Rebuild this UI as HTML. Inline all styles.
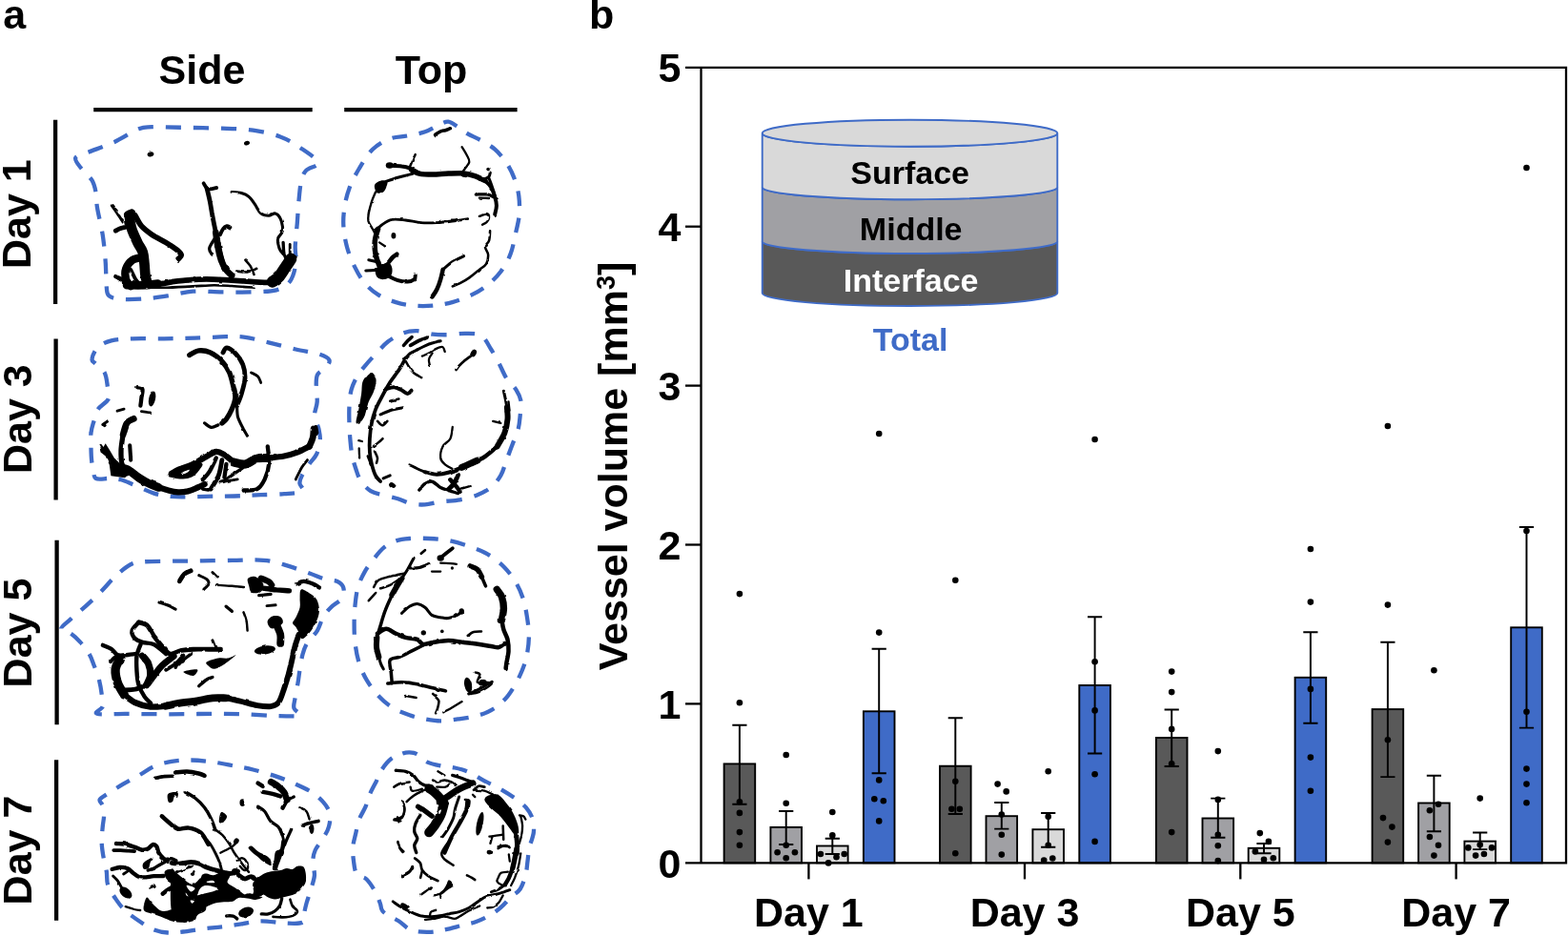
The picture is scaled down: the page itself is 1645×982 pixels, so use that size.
<!DOCTYPE html>
<html lang="en">
<head>
<meta charset="utf-8">
<title>Vessel volume figure</title>
<style>
html,body{margin:0;padding:0;background:#fff;}
body{width:1645px;height:982px;overflow:hidden;}
svg{display:block;}
text{font-family:"Liberation Sans",Arial,Helvetica,sans-serif;font-weight:700;}
.t43{font-size:43px;}
.t34{font-size:34px;}
</style>
</head>
<body>
<svg width="1645" height="982" viewBox="0 0 1645 982">
<defs>
<filter id="rough" x="-10%" y="-10%" width="120%" height="120%">
<feTurbulence type="fractalNoise" baseFrequency="0.11" numOctaves="2" seed="7" result="n"/>
<feDisplacementMap in="SourceGraphic" in2="n" scale="2.2" xChannelSelector="R" yChannelSelector="G"/>
</filter>
</defs>
<rect width="1645" height="982" fill="#fff"/>
<g id="labels">
<text x="3.3" y="30.3" class="t43">a</text>
<text x="618" y="30.3" class="t43">b</text>
<text x="212" y="88" text-anchor="middle" class="t43">Side</text>
<text x="452.6" y="88" text-anchor="middle" class="t43">Top</text>
<path d="M98.2 115.1H327.7M361.2 115.1H542.6" stroke="#000" stroke-width="4.3"/>
<text transform="translate(32.3 224.7) rotate(-90)" text-anchor="middle" class="t43">Day 1</text>
<path d="M58.1 125.7V318.9" stroke="#000" stroke-width="4.3"/>
<text transform="translate(32.5 439.7) rotate(-90)" text-anchor="middle" class="t43">Day 3</text>
<path d="M58.6 355.5V524.4" stroke="#000" stroke-width="4.3"/>
<text transform="translate(33.0 664) rotate(-90)" text-anchor="middle" class="t43">Day 5</text>
<path d="M59.6 566.7V760.3" stroke="#000" stroke-width="4.3"/>
<text transform="translate(32.8 892) rotate(-90)" text-anchor="middle" class="t43">Day 7</text>
<path d="M59.1 797.3V965.8" stroke="#000" stroke-width="4.3"/>
</g>
<g id="d1side">
<path d="M79.2 165.8C80.2 162.8 85.8 162.4 92.4 159.7C99.0 157.0 110.1 153.6 118.9 149.5C127.7 145.5 138.6 138.0 145.4 135.3C152.1 132.6 151.8 133.5 159.6 133.2C167.4 133.0 180.0 133.6 192.2 133.8C204.4 134.1 220.7 134.2 232.9 134.7C245.2 135.1 255.3 135.2 265.5 136.7C275.7 138.2 285.9 140.4 294.0 143.4C302.2 146.4 307.8 150.1 314.4 154.6C321.0 159.1 332.7 166.4 333.7 170.5C334.8 174.6 323.9 175.6 320.9 179.1C317.9 182.5 317.1 185.9 315.8 191.3C314.6 196.7 314.1 204.5 313.4 211.6C312.7 218.8 312.4 226.2 311.8 234.1C311.1 241.9 310.0 251.4 309.7 258.5C309.5 265.6 311.2 270.7 310.3 276.8C309.4 282.9 307.6 290.6 304.2 295.2C300.8 299.7 296.7 302.5 290.0 304.3C283.2 306.2 273.0 306.0 263.5 306.4C254.0 306.7 243.1 306.5 232.9 306.4C222.7 306.3 211.9 305.1 202.4 305.7C192.9 306.4 184.4 309.1 175.9 310.4C167.4 311.7 159.6 312.9 151.5 313.5C143.3 314.1 133.2 314.4 127.0 313.9C120.8 313.4 116.9 312.5 114.4 310.4C111.9 308.3 112.4 307.2 111.8 301.3C111.1 295.3 111.4 284.0 110.7 274.8C110.1 265.6 109.1 255.8 107.7 246.3C106.2 236.8 103.2 225.2 102.0 217.8C100.8 210.3 101.5 206.2 100.5 201.5C99.6 196.7 98.9 193.2 96.5 189.2C94.1 185.3 89.2 181.9 86.3 178.0C83.4 174.1 78.1 168.9 79.2 165.8Z" fill="none" stroke="#3f6bc7" stroke-width="4.3" stroke-dasharray="16.12 12.90" stroke-dashoffset="14.02"/>
<g filter="url(#rough)">
<ellipse cx="158.0" cy="161.8" rx="3.46" ry="2.44" fill="#000" transform="rotate(-15 158.0 161.8)"/>
<ellipse cx="259.0" cy="150.1" rx="3.05" ry="2.24" fill="#000" transform="rotate(-15 259.0 150.1)"/>
<path d="M117.3 215.7C118.3 217.1 121.4 221.4 123.4 224.3C125.3 227.2 128.1 231.6 129.1 233.0" fill="none" stroke="#000" stroke-width="3.09" stroke-linecap="round" stroke-linejoin="round"/>
<path d="M121.3 242.2C122.1 241.8 124.4 240.4 126.0 239.8C127.6 239.1 130.3 238.7 131.1 238.5" fill="none" stroke="#000" stroke-width="4.80" stroke-linecap="round" stroke-linejoin="round"/>
<path d="M130.1 223.9C131.1 221.8 137.0 219.0 139.2 219.4C141.5 219.7 143.9 224.0 143.7 225.9C143.6 227.8 140.0 230.0 138.2 231.0C136.5 231.9 134.5 232.8 133.1 231.6C131.8 230.4 129.1 225.9 130.1 223.9Z" fill="#000"/>
<path d="M135.6 226.9C136.0 229.1 136.8 235.6 138.2 240.2C139.7 244.7 142.4 250.3 144.3 254.4C146.3 258.5 148.6 260.9 149.8 264.6C151.0 268.3 151.0 272.7 151.5 276.8C151.9 280.9 152.0 285.6 152.5 289.0C153.0 292.4 154.2 295.8 154.5 297.2" fill="none" stroke="#000" stroke-width="10.66" stroke-linecap="round" stroke-linejoin="round"/>
<path d="M141.7 225.9C142.8 227.8 145.4 233.7 148.4 237.1C151.4 240.5 155.4 243.4 159.6 246.3C163.9 249.2 169.5 251.7 173.9 254.4C178.3 257.1 183.4 260.4 186.1 262.6C188.8 264.8 190.0 266.1 190.2 267.7C190.3 269.2 187.6 271.1 187.1 271.7" fill="none" stroke="#000" stroke-width="5.78" stroke-linecap="round" stroke-linejoin="round"/>
<path d="M150.4 269.7C148.6 270.2 142.3 270.7 139.2 272.7C136.2 274.8 133.3 278.5 132.1 281.9C130.9 285.3 131.3 290.1 132.1 293.1C133.0 296.2 136.4 299.1 137.2 300.2" fill="none" stroke="#000" stroke-width="8.22" stroke-linecap="round" stroke-linejoin="round"/>
<path d="M121.3 290.1C122.4 290.6 126.1 291.9 128.0 293.1C130.0 294.3 132.3 296.5 133.1 297.2" fill="none" stroke="#000" stroke-width="4.31" stroke-linecap="round" stroke-linejoin="round"/>
<path d="M137.2 282.9C138.1 284.6 140.6 290.4 142.3 293.1C144.0 295.8 146.5 298.2 147.4 299.2" fill="none" stroke="#000" stroke-width="3.82" stroke-linecap="round" stroke-linejoin="round"/>
<path d="M133.1 299.2C136.2 299.2 146.0 299.5 151.5 299.2C156.9 299.0 163.3 297.9 165.7 297.6" fill="none" stroke="#000" stroke-width="8.71" stroke-linecap="round" stroke-linejoin="round"/>
<path d="M165.7 298.4C168.1 298.0 175.6 296.4 180.0 295.8C184.4 295.1 186.1 294.8 192.2 294.3C198.3 293.9 208.2 292.9 216.6 292.9C225.1 292.9 235.0 293.7 243.1 294.1C251.3 294.6 259.1 295.2 265.5 295.6C272.0 295.9 277.9 296.6 281.8 296.4C285.7 296.1 287.8 294.5 288.9 294.1" fill="none" stroke="#000" stroke-width="5.78" stroke-linecap="round" stroke-linejoin="round"/>
<path d="M157.6 301.7C160.6 301.7 168.4 301.9 175.9 301.7C183.4 301.5 194.2 300.9 202.4 300.4C210.5 300.0 218.0 299.3 224.8 299.2C231.6 299.2 236.2 299.6 243.1 300.0C250.1 300.4 262.6 301.4 266.5 301.7" fill="none" stroke="#000" stroke-width="2.60" stroke-linecap="round" stroke-linejoin="round"/>
<path d="M213.6 192.3C214.2 193.2 215.9 196.4 217.0 197.4C218.2 198.4 219.0 198.5 220.7 198.4C222.4 198.3 226.1 197.2 227.2 197.0" fill="none" stroke="#000" stroke-width="3.82" stroke-linecap="round" stroke-linejoin="round"/>
<path d="M217.0 197.4C217.6 199.8 219.3 206.6 220.3 211.6C221.3 216.7 222.1 222.5 223.2 227.9C224.2 233.4 225.9 241.5 226.4 244.2" fill="none" stroke="#000" stroke-width="4.80" stroke-linecap="round" stroke-linejoin="round"/>
<path d="M226.4 244.2C226.8 247.0 227.9 255.8 228.9 260.5C229.8 265.3 230.6 269.0 231.9 272.7C233.3 276.5 235.1 280.2 237.0 282.9C238.9 285.6 242.1 288.0 243.1 289.0" fill="none" stroke="#000" stroke-width="6.75" stroke-linecap="round" stroke-linejoin="round"/>
<path d="M227.8 250.3C228.2 252.4 229.0 258.5 229.9 262.6C230.7 266.6 232.4 272.7 232.9 274.8" fill="none" stroke="#000" stroke-width="6.27" stroke-linecap="round" stroke-linejoin="round"/>
<path d="M230.9 246.3C231.4 245.3 232.8 241.7 234.0 240.2C235.1 238.6 236.8 237.4 238.0 237.1C239.3 236.8 240.9 238.3 241.5 238.5" fill="none" stroke="#000" stroke-width="3.82" stroke-linecap="round" stroke-linejoin="round"/>
<path d="M225.2 250.3C224.3 252.0 220.2 257.7 219.7 260.5C219.2 263.3 221.9 266.0 222.3 267.0" fill="none" stroke="#000" stroke-width="3.33" stroke-linecap="round" stroke-linejoin="round"/>
<path d="M243.1 201.5C244.8 201.6 250.2 201.6 253.3 202.5C256.4 203.3 259.1 204.5 261.4 206.6C263.8 208.6 265.5 211.8 267.6 214.7C269.6 217.6 271.3 221.9 273.7 223.9C276.0 225.8 279.3 226.3 281.8 226.3C284.4 226.3 286.9 223.4 288.9 223.9C291.0 224.3 292.8 226.6 294.0 229.0C295.3 231.3 296.2 235.6 296.5 238.1C296.7 240.7 296.5 242.2 295.7 244.2C294.8 246.3 292.0 247.6 291.6 250.3C291.1 253.1 292.1 257.8 293.0 260.5C293.9 263.2 296.4 265.6 297.1 266.6" fill="none" stroke="#000" stroke-width="3.09" stroke-linecap="round" stroke-linejoin="round"/>
<path d="M257.4 272.7C258.2 273.8 260.9 276.3 262.5 278.9C264.0 281.4 265.9 286.5 266.5 288.0" fill="none" stroke="#000" stroke-width="2.60" stroke-linecap="round" stroke-linejoin="round"/>
<path d="M248.2 284.6C250.1 284.7 255.9 285.8 259.4 285.4C262.9 284.9 267.6 282.5 269.2 281.9" fill="none" stroke="#000" stroke-width="2.60" stroke-linecap="round" stroke-linejoin="round"/>
<path d="M305.2 271.7C304.2 273.3 301.3 277.7 299.1 280.9C296.9 284.1 294.2 288.6 292.0 291.1C289.8 293.5 286.9 294.8 285.9 295.6" fill="none" stroke="#000" stroke-width="12.13" stroke-linecap="round" stroke-linejoin="round"/>
<path d="M297.1 254.4C297.3 256.5 297.3 263.2 298.1 266.6C299.0 270.0 301.5 273.4 302.2 274.8" fill="none" stroke="#000" stroke-width="3.33" stroke-linecap="round" stroke-linejoin="round"/>
<path d="M304.2 256.5L304.2 266.6" fill="none" stroke="#000" stroke-width="2.84" stroke-linecap="round" stroke-linejoin="round"/>
<path d="M310.3 269.7L304.2 278.9" fill="none" stroke="#000" stroke-width="2.84" stroke-linecap="round" stroke-linejoin="round"/>
</g>
</g>
<g id="d1top">
<path d="M470.3 127.7C473.7 128.1 477.1 131.1 480.5 133.2C483.9 135.3 486.6 138.0 490.7 140.4C494.8 142.7 500.2 144.8 505.0 147.5C509.7 150.2 514.8 152.8 519.2 156.7C523.6 160.6 528.1 165.8 531.4 170.9C534.8 176.0 537.5 181.4 539.6 187.2C541.7 193.0 543.4 199.1 544.3 205.5C545.1 212.0 545.3 219.1 544.7 225.9C544.1 232.7 542.1 239.5 540.6 246.3C539.1 253.1 538.1 260.2 535.5 266.6C533.0 273.1 529.4 279.5 525.3 285.0C521.3 290.4 516.2 295.2 511.1 299.2C506.0 303.3 500.9 306.4 494.8 309.4C488.7 312.4 481.2 315.3 474.4 317.1C467.6 319.0 460.8 320.0 454.1 320.6C447.3 321.2 440.1 321.2 433.7 320.6C427.2 320.0 421.5 319.0 415.4 317.1C409.2 315.3 402.5 312.7 397.0 309.4C391.6 306.1 386.8 301.9 382.8 297.2C378.7 292.4 375.6 287.0 372.6 280.9C369.5 274.8 366.5 267.7 364.4 260.5C362.4 253.4 360.9 245.3 360.4 238.1C359.9 231.0 360.4 224.5 361.4 217.8C362.4 211.0 363.9 204.2 366.5 197.4C369.0 190.6 372.6 183.8 376.7 177.0C380.7 170.2 385.5 161.9 390.9 156.7C396.3 151.4 403.1 147.8 409.2 145.5C415.4 143.1 421.5 143.6 427.6 142.4C433.7 141.2 440.5 140.2 445.9 138.3C451.3 136.5 456.1 133.0 460.2 131.2C464.2 129.4 467.0 127.4 470.3 127.7Z" fill="none" stroke="#3f6bc7" stroke-width="4.3" stroke-dasharray="15.75 12.60" stroke-dashoffset="5.50"/>
<g filter="url(#rough)">
<path d="M456.5 141.4C457.4 140.8 460.4 138.7 462.2 137.9C464.0 137.1 465.6 137.2 467.3 136.7C469.0 136.2 471.5 135.0 472.4 134.7" fill="none" stroke="#000" stroke-width="3.52" stroke-linecap="round" stroke-linejoin="round"/>
<ellipse cx="408.8" cy="173.4" rx="4.07" ry="3.26" fill="#000"/>
<path d="M408.8 173.8C410.9 173.9 418.0 174.1 421.5 174.6C424.9 175.0 426.6 175.2 429.6 176.4C432.7 177.6 438.1 180.8 439.8 181.7" fill="none" stroke="#000" stroke-width="4.01" stroke-linecap="round" stroke-linejoin="round"/>
<path d="M431.6 178.0C433.0 178.7 436.1 181.3 439.8 182.1C443.5 183.0 449.0 183.1 454.1 183.1C459.1 183.1 464.9 182.3 470.3 182.1C475.8 181.9 481.9 181.5 486.6 181.9C491.4 182.4 495.1 183.5 498.9 184.8C502.6 186.1 507.3 188.8 509.0 189.7" fill="none" stroke="#000" stroke-width="5.48" stroke-linecap="round" stroke-linejoin="round"/>
<path d="M509.0 189.7C510.1 190.8 513.5 193.6 515.2 196.4C516.8 199.2 518.3 203.3 519.2 206.6C520.2 209.8 520.9 212.7 520.9 215.7C520.9 218.8 519.5 223.4 519.2 224.9" fill="none" stroke="#000" stroke-width="4.01" stroke-linecap="round" stroke-linejoin="round"/>
<path d="M429.6 176.0C430.1 174.8 431.6 170.8 432.7 168.5C433.7 166.2 435.2 163.2 435.7 162.2" fill="none" stroke="#000" stroke-width="2.54" stroke-linecap="round" stroke-linejoin="round"/>
<path d="M484.6 154.2C485.5 155.6 488.4 160.2 489.7 162.8C491.0 165.4 492.7 167.5 492.3 169.9C492.0 172.3 488.9 175.2 487.7 177.0C486.4 178.8 485.5 180.1 485.0 180.7" fill="none" stroke="#000" stroke-width="2.30" stroke-linecap="round" stroke-linejoin="round"/>
<ellipse cx="512.1" cy="177.6" rx="1.83" ry="1.83" fill="#000"/>
<path d="M507.4 188.2C508.3 187.8 511.6 186.8 512.7 185.6C513.9 184.4 514.1 181.8 514.3 181.1" fill="none" stroke="#000" stroke-width="3.03" stroke-linecap="round" stroke-linejoin="round"/>
<path d="M513.1 187.2C513.7 188.9 515.8 194.3 516.8 197.4C517.8 200.4 518.8 204.2 519.2 205.5" fill="none" stroke="#000" stroke-width="3.03" stroke-linecap="round" stroke-linejoin="round"/>
<path d="M499.3 204.1C501.2 204.1 508.0 203.5 511.1 203.9C514.1 204.3 516.5 206.1 517.6 206.6" fill="none" stroke="#000" stroke-width="3.28" stroke-linecap="round" stroke-linejoin="round"/>
<path d="M502.9 207.6L513.1 208.0" fill="none" stroke="#000" stroke-width="2.30" stroke-linecap="round" stroke-linejoin="round"/>
<path d="M435.7 181.1C434.7 181.4 432.7 182.3 429.6 183.1C426.6 184.0 421.5 185.0 417.4 186.2C413.3 187.4 407.2 189.6 405.2 190.3" fill="none" stroke="#000" stroke-width="3.03" stroke-linecap="round" stroke-linejoin="round"/>
<path d="M393.4 193.3C394.3 191.9 396.9 190.2 399.1 189.7C401.2 189.1 405.2 189.1 406.2 190.3C407.2 191.4 405.9 194.5 405.2 196.4C404.5 198.2 403.6 200.4 402.1 201.5C400.6 202.5 397.5 203.0 396.0 202.5C394.5 202.0 393.8 199.9 393.4 198.4C392.9 196.9 392.4 194.8 393.4 193.3Z" fill="#000"/>
<path d="M394.0 201.5C393.3 203.2 391.1 207.9 389.9 211.6C388.7 215.4 387.4 220.5 386.8 223.9C386.3 227.3 385.8 229.3 386.4 232.0C387.1 234.7 389.7 237.8 390.9 240.2C392.2 242.5 393.5 245.3 394.0 246.3" fill="none" stroke="#000" stroke-width="2.30" stroke-linecap="round" stroke-linejoin="round"/>
<path d="M394.0 242.2C395.2 241.1 398.2 237.4 401.1 235.5C404.0 233.5 407.2 231.1 411.3 230.4C415.4 229.6 420.4 230.5 425.5 231.0C430.6 231.5 436.4 233.2 441.8 233.6C447.3 234.1 452.7 233.9 458.1 233.6C463.6 233.4 469.0 232.7 474.4 232.0C479.9 231.3 488.0 230.0 490.7 229.6" fill="none" stroke="#000" stroke-width="2.79" stroke-linecap="round" stroke-linejoin="round"/>
<path d="M396.6 240.2C396.1 242.2 393.8 248.0 393.4 252.4C392.9 256.8 393.2 262.2 394.0 266.6C394.8 271.1 396.5 275.5 398.0 278.9C399.6 282.3 402.3 285.6 403.1 287.0" fill="none" stroke="#000" stroke-width="5.48" stroke-linecap="round" stroke-linejoin="round"/>
<ellipse cx="412.9" cy="247.3" rx="2.44" ry="3.26" fill="#000"/>
<path d="M398.0 254.4L404.2 258.5" fill="none" stroke="#000" stroke-width="2.30" stroke-linecap="round" stroke-linejoin="round"/>
<path d="M386.8 272.7L398.0 275.2" fill="none" stroke="#000" stroke-width="3.03" stroke-linecap="round" stroke-linejoin="round"/>
<path d="M383.8 284.0L397.0 283.3" fill="none" stroke="#000" stroke-width="3.03" stroke-linecap="round" stroke-linejoin="round"/>
<path d="M394.0 282.9C394.8 280.6 398.9 278.2 401.1 276.8C403.3 275.5 405.5 274.1 407.2 274.8C408.9 275.5 410.8 278.5 411.3 280.9C411.8 283.3 411.6 287.0 410.3 289.0C408.9 291.1 405.5 292.8 403.1 293.1C400.8 293.5 397.5 292.8 396.0 291.1C394.5 289.4 393.1 285.3 394.0 282.9Z" fill="#000"/>
<path d="M407.2 275.8C408.1 274.8 410.8 271.2 412.3 269.7C413.8 268.2 415.7 267.1 416.4 266.6" fill="none" stroke="#000" stroke-width="4.50" stroke-linecap="round" stroke-linejoin="round"/>
<path d="M407.2 289.5C408.9 290.2 414.0 293.1 417.4 294.1C420.8 295.2 424.7 295.7 427.6 295.6C430.5 295.4 433.3 294.3 434.7 293.1C436.1 292.0 435.6 289.4 435.7 288.6" fill="none" stroke="#000" stroke-width="4.01" stroke-linecap="round" stroke-linejoin="round"/>
<path d="M514.1 242.2C514.0 243.9 514.0 249.6 513.1 252.4C512.3 255.2 509.2 256.5 509.0 258.9C508.9 261.3 511.9 264.1 512.1 267.0C512.3 270.0 511.6 274.2 510.1 276.8C508.5 279.5 505.8 280.6 502.9 282.9C500.0 285.3 496.1 288.7 492.7 291.1C489.4 293.5 485.6 295.6 482.6 297.2C479.6 298.8 476.1 299.9 474.8 300.4" fill="none" stroke="#000" stroke-width="2.54" stroke-linecap="round" stroke-linejoin="round"/>
<path d="M502.9 226.9C504.1 226.6 508.4 224.7 510.1 224.9C511.8 225.1 513.0 226.6 513.1 227.9C513.2 229.3 511.9 231.7 510.7 233.0C509.5 234.3 506.8 235.2 506.0 235.7" fill="none" stroke="#000" stroke-width="2.30" stroke-linecap="round" stroke-linejoin="round"/>
<path d="M486.6 268.7C484.6 269.7 478.1 272.4 474.4 274.8C470.8 277.2 466.3 281.6 464.6 282.9" fill="none" stroke="#000" stroke-width="3.03" stroke-linecap="round" stroke-linejoin="round"/>
<path d="M464.6 282.9C464.2 284.6 463.2 289.7 462.2 293.1C461.2 296.5 460.0 300.2 458.5 303.3C457.1 306.4 454.3 310.1 453.4 311.4" fill="none" stroke="#000" stroke-width="4.50" stroke-linecap="round" stroke-linejoin="round"/>
</g>
</g>
<g id="d3side">
<path d="M96.5 376.7C96.8 373.8 99.2 367.7 102.6 364.4C106.0 361.2 110.7 358.8 116.8 357.3C123.0 355.8 130.1 355.6 139.2 355.3C148.4 354.9 161.0 355.4 171.8 355.3C182.7 355.2 193.6 355.0 204.4 354.7C215.3 354.3 228.2 353.4 237.0 353.2C245.8 353.1 249.9 352.8 257.4 353.8C264.8 354.9 273.0 357.2 281.8 359.3C290.6 361.5 301.5 364.4 310.3 366.5C319.2 368.5 328.9 369.7 334.8 371.6C340.6 373.4 344.2 375.3 345.4 377.7C346.5 380.1 343.9 383.3 341.9 385.8C339.9 388.4 334.8 389.7 333.1 393.0C331.4 396.2 331.8 400.4 331.7 405.2C331.6 409.9 333.0 416.4 332.7 421.5C332.5 426.6 329.8 431.0 330.1 435.7C330.4 440.5 333.4 445.6 334.4 450.0C335.3 454.4 336.2 457.8 335.8 462.2C335.4 466.6 334.0 472.4 332.1 476.5C330.3 480.5 327.1 482.9 324.6 486.6C322.0 490.4 318.5 495.5 316.8 498.9C315.1 502.3 314.3 504.2 314.4 507.0C314.5 509.8 320.2 513.7 317.5 515.6C314.7 517.4 305.4 517.6 298.1 518.2C290.8 518.8 281.1 518.9 273.7 519.2C266.2 519.6 261.4 520.0 253.3 520.2C245.2 520.5 234.3 520.5 224.8 520.7C215.3 520.8 203.7 521.2 196.3 521.3C188.8 521.3 185.8 521.5 180.0 520.9C174.2 520.2 168.1 519.6 161.6 517.6C155.2 515.6 147.1 511.4 141.3 509.0C135.5 506.7 131.4 504.5 127.0 503.3C122.6 502.2 119.2 502.2 114.8 501.9C110.4 501.7 103.4 503.8 100.5 501.9C97.7 500.0 98.2 493.9 97.5 490.7C96.7 487.5 96.4 486.0 96.1 482.6C95.7 479.2 95.6 475.1 95.5 470.3C95.4 465.6 94.9 458.8 95.5 454.1C96.0 449.3 97.3 445.9 98.5 441.8C99.7 437.8 100.0 433.5 102.6 429.6C105.1 425.7 112.1 422.5 113.8 418.4C115.5 414.3 113.4 409.8 112.8 405.2C112.1 400.6 111.8 394.8 109.7 390.9C107.7 387.0 102.8 384.1 100.5 381.8C98.3 379.4 96.1 379.5 96.5 376.7Z" fill="none" stroke="#3f6bc7" stroke-width="4.3" stroke-dasharray="15.91 12.73" stroke-dashoffset="7.00"/>
<g filter="url(#rough)">
<path d="M198.7 372.6C200.3 371.8 204.8 368.3 208.5 367.9C212.2 367.5 216.6 368.1 220.7 369.9C224.8 371.8 229.6 375.6 232.9 379.1C236.3 382.6 238.7 386.6 240.7 390.9C242.6 395.3 243.7 400.8 244.7 405.2C245.8 409.6 247.1 413.3 246.8 417.4C246.5 421.5 244.7 425.9 243.1 429.6C241.6 433.3 239.1 437.4 237.4 439.8C235.7 442.2 233.7 443.2 232.9 443.9" fill="none" stroke="#000" stroke-width="5.29" stroke-linecap="round" stroke-linejoin="round"/>
<path d="M234.0 369.9C234.6 369.1 235.8 364.7 238.0 364.8C240.2 365.0 244.4 368.0 247.2 371.0C250.0 373.9 253.3 378.4 254.9 382.8C256.6 387.1 257.2 391.9 257.0 397.0C256.7 402.1 254.7 408.6 253.3 413.3C251.9 418.1 249.4 423.5 248.6 425.5" fill="none" stroke="#000" stroke-width="4.80" stroke-linecap="round" stroke-linejoin="round"/>
<path d="M248.6 425.5C248.8 427.6 248.5 433.7 249.6 437.8C250.8 441.8 253.7 446.8 255.3 450.0C257.0 453.2 258.7 455.9 259.4 457.1" fill="none" stroke="#000" stroke-width="3.09" stroke-linecap="round" stroke-linejoin="round"/>
<path d="M263.5 390.9C264.7 391.6 268.9 393.2 270.6 395.0C272.3 396.8 273.2 400.4 273.7 401.5" fill="none" stroke="#000" stroke-width="2.84" stroke-linecap="round" stroke-linejoin="round"/>
<path d="M214.6 443.9C215.8 444.6 219.4 448.0 221.7 448.4C224.1 448.7 227.7 446.3 228.9 445.9" fill="none" stroke="#000" stroke-width="3.33" stroke-linecap="round" stroke-linejoin="round"/>
<path d="M144.3 406.2C145.2 406.5 148.8 406.4 149.4 408.2C150.1 410.1 148.8 414.5 148.4 417.4C148.1 420.3 147.6 424.2 147.4 425.5" fill="none" stroke="#000" stroke-width="4.31" stroke-linecap="round" stroke-linejoin="round"/>
<ellipse cx="159.6" cy="418.4" rx="3.46" ry="8.15" fill="#000" transform="rotate(12 159.6 418.4)"/>
<path d="M148.4 431.6L157.6 432.9" fill="none" stroke="#000" stroke-width="2.84" stroke-linecap="round" stroke-linejoin="round"/>
<path d="M123.0 431.2L130.1 429.2" fill="none" stroke="#000" stroke-width="2.84" stroke-linecap="round" stroke-linejoin="round"/>
<path d="M107.7 445.5L113.2 441.8" fill="none" stroke="#000" stroke-width="2.84" stroke-linecap="round" stroke-linejoin="round"/>
<ellipse cx="109.7" cy="446.3" rx="1.83" ry="1.83" fill="#000"/>
<path d="M140.3 439.4C139.1 440.1 135.0 441.1 133.1 443.9C131.3 446.7 129.7 454.1 129.1 456.1" fill="none" stroke="#000" stroke-width="6.75" stroke-linecap="round" stroke-linejoin="round"/>
<path d="M129.1 456.1C128.7 458.8 127.2 467.3 127.0 472.4C126.9 477.5 127.0 482.6 128.0 486.6C129.1 490.7 132.3 495.1 133.1 496.8" fill="none" stroke="#000" stroke-width="5.29" stroke-linecap="round" stroke-linejoin="round"/>
<path d="M136.2 467.3L137.2 482.6" fill="none" stroke="#000" stroke-width="4.07" stroke-linecap="round" stroke-linejoin="round"/>
<path d="M104.2 468.7L107.7 470.3L110.7 465.3L115.2 472.4L119.9 480.5L126.0 486.6L136.2 495.8L131.1 501.3L116.4 499.3L114.8 487.7L110.7 478.5L105.6 474.4Z" fill="#000"/>
<path d="M105.6 467.3L110.7 474.4" fill="none" stroke="#000" stroke-width="2.84" stroke-linecap="round" stroke-linejoin="round"/>
<path d="M131.1 491.7C131.9 492.1 133.3 492.1 135.8 493.8C138.3 495.4 142.5 499.2 146.0 501.5C149.4 503.8 152.9 505.8 156.4 507.4C159.8 509.1 164.8 510.8 166.5 511.5" fill="none" stroke="#000" stroke-width="8.71" stroke-linecap="round" stroke-linejoin="round"/>
<path d="M166.5 511.5C168.2 512.0 173.3 513.7 176.7 514.5C180.1 515.4 183.5 516.2 186.9 516.4C190.3 516.5 193.7 516.2 197.1 515.4C200.5 514.5 204.4 512.7 207.3 511.5C210.2 510.3 213.4 508.6 214.6 508.0" fill="none" stroke="#000" stroke-width="6.27" stroke-linecap="round" stroke-linejoin="round"/>
<path d="M180.0 496.8C181.3 496.1 184.4 494.0 188.1 492.3C191.9 490.7 197.6 489.3 202.4 487.0C207.1 484.8 212.6 481.1 216.6 478.9C220.7 476.7 223.8 474.1 226.8 473.8C229.9 473.5 231.9 475.0 235.0 476.9C238.0 478.7 243.5 483.7 245.2 485.0" fill="none" stroke="#000" stroke-width="6.27" stroke-linecap="round" stroke-linejoin="round"/>
<path d="M245.2 485.0C247.2 485.3 253.3 487.7 257.4 487.0C261.4 486.4 265.5 482.0 269.6 480.9C273.7 479.9 279.8 480.6 281.8 480.5" fill="none" stroke="#000" stroke-width="9.20" stroke-linecap="round" stroke-linejoin="round"/>
<path d="M281.8 480.5C284.5 480.2 293.0 479.5 298.1 478.5C303.2 477.5 307.9 476.1 312.4 474.4C316.8 472.7 322.5 469.3 324.6 468.3" fill="none" stroke="#000" stroke-width="6.27" stroke-linecap="round" stroke-linejoin="round"/>
<path d="M175.7 498.5C176.4 496.6 183.3 492.2 186.9 490.3C190.5 488.4 193.7 488.1 197.1 487.3C200.5 486.4 204.7 485.2 207.3 485.2C209.9 485.2 212.6 485.6 212.6 487.3C212.6 488.9 209.2 493.2 207.3 495.4C205.4 497.6 203.7 499.3 201.2 500.5C198.6 501.7 195.1 502.4 192.0 502.5C188.9 502.7 185.5 502.2 182.8 501.5C180.1 500.8 175.0 500.3 175.7 498.5Z" fill="#000"/>
<path d="M190.2 496.4C190.5 495.9 193.2 494.6 194.6 494.0C196.1 493.4 198.3 492.5 198.7 492.7C199.2 493.0 198.3 494.4 197.3 495.2C196.3 495.9 193.8 497.0 192.6 497.2C191.4 497.4 189.8 497.0 190.2 496.4Z" fill="#fff"/>
<path d="M226.8 480.5C225.6 482.9 222.1 491.0 219.7 494.8C217.3 498.6 213.8 501.9 212.6 503.3" fill="none" stroke="#000" stroke-width="4.31" stroke-linecap="round" stroke-linejoin="round"/>
<path d="M232.9 482.6C232.3 485.3 231.2 493.8 229.3 498.9C227.3 504.0 222.5 510.7 221.1 513.1" fill="none" stroke="#000" stroke-width="4.80" stroke-linecap="round" stroke-linejoin="round"/>
<path d="M237.4 487.0L235.4 500.9" fill="none" stroke="#000" stroke-width="4.31" stroke-linecap="round" stroke-linejoin="round"/>
<path d="M249.2 502.9C247.5 503.2 242.1 504.1 239.0 504.6C236.0 505.1 232.3 505.8 230.9 506.0" fill="none" stroke="#000" stroke-width="2.84" stroke-linecap="round" stroke-linejoin="round"/>
<path d="M254.3 491.1C252.5 492.4 246.5 496.5 243.1 498.9C239.7 501.2 235.5 504.3 234.0 505.4" fill="none" stroke="#000" stroke-width="3.33" stroke-linecap="round" stroke-linejoin="round"/>
<path d="M212.6 513.1L218.7 514.1" fill="none" stroke="#000" stroke-width="3.33" stroke-linecap="round" stroke-linejoin="round"/>
<path d="M280.8 468.3C281.0 471.4 282.7 480.9 282.2 486.6C281.7 492.4 279.8 498.5 277.7 502.9C275.6 507.3 273.3 511.2 269.6 513.1C265.9 515.1 258.1 514.3 255.7 514.5" fill="none" stroke="#000" stroke-width="4.31" stroke-linecap="round" stroke-linejoin="round"/>
<path d="M324.6 468.3C325.2 466.8 327.5 462.2 328.2 459.1C329.0 456.1 328.9 451.5 329.1 450.0" fill="none" stroke="#000" stroke-width="6.75" stroke-linecap="round" stroke-linejoin="round"/>
<path d="M331.7 447.9L332.7 454.1" fill="none" stroke="#000" stroke-width="3.33" stroke-linecap="round" stroke-linejoin="round"/>
<path d="M322.5 482.6C321.5 483.9 318.5 487.3 316.4 490.7C314.4 494.1 311.3 500.9 310.3 502.9" fill="none" stroke="#000" stroke-width="2.84" stroke-linecap="round" stroke-linejoin="round"/>
</g>
</g>
<g id="d3top">
<path d="M423.5 349.2C428.6 347.3 432.7 346.9 437.8 347.1C442.9 347.4 448.6 349.9 454.1 350.6C459.5 351.3 464.6 351.3 470.3 351.2C476.1 351.1 482.9 349.6 488.7 349.8C494.4 349.9 500.6 349.4 505.0 352.2C509.4 355.0 512.1 361.7 515.2 366.5C518.2 371.2 520.6 375.6 523.3 380.7C526.0 385.8 528.4 392.3 531.4 397.0C534.5 401.8 539.1 405.2 541.6 409.2C544.2 413.3 546.0 417.1 546.7 421.5C547.4 425.9 546.2 431.0 545.7 435.7C545.2 440.5 545.0 444.9 543.7 450.0C542.3 455.1 539.6 460.8 537.6 466.3C535.5 471.7 533.5 477.1 531.4 482.6C529.4 488.0 528.1 494.1 525.3 498.9C522.6 503.6 519.2 507.7 515.2 511.1C511.1 514.5 506.3 517.0 500.9 519.2C495.5 521.4 489.0 523.1 482.6 524.3C476.1 525.5 468.3 525.5 462.2 526.4C456.1 527.2 451.0 529.1 445.9 529.4C440.8 529.7 436.4 529.4 431.6 528.4C426.9 527.4 422.5 524.8 417.4 523.3C412.3 521.8 405.9 520.6 401.1 519.2C396.3 517.9 392.6 517.5 388.9 515.2C385.1 512.8 381.2 508.7 378.7 505.0C376.2 501.2 375.1 497.2 373.6 492.7C372.1 488.3 370.5 483.6 369.5 478.5C368.5 473.4 368.0 467.6 367.5 462.2C367.0 456.8 366.6 452.0 366.5 445.9C366.3 439.8 366.1 431.6 366.5 425.5C366.8 419.4 367.2 414.3 368.5 409.2C369.9 404.2 372.1 399.4 374.6 395.0C377.2 390.6 380.4 386.8 383.8 382.8C387.2 378.7 391.1 374.6 395.0 370.5C398.9 366.5 402.5 361.9 407.2 358.3C412.0 354.8 418.4 351.0 423.5 349.2Z" fill="none" stroke="#3f6bc7" stroke-width="4.3" stroke-dasharray="16.35 13.08" stroke-dashoffset="0.00"/>
<g filter="url(#rough)">
<path d="M385.2 393.4C387.0 391.7 389.4 390.4 390.9 391.3C392.5 392.3 394.4 395.7 394.6 399.1C394.8 402.4 393.2 407.5 391.9 411.3C390.6 415.0 388.4 417.4 386.8 421.5C385.3 425.5 384.1 432.3 382.8 435.7C381.4 439.2 380.2 441.0 378.7 442.2C377.2 443.5 374.0 445.6 373.6 443.5C373.2 441.4 375.3 434.6 376.3 429.6C377.2 424.6 378.4 418.1 379.1 413.3C379.8 408.6 379.3 404.4 380.3 401.1C381.3 397.8 383.4 395.0 385.2 393.4Z" fill="#000"/>
<path d="M425.5 375.6C424.5 377.5 422.1 382.6 419.4 386.8C416.7 391.1 412.3 396.3 409.2 401.1C406.2 405.9 403.6 410.6 401.1 415.4C398.6 420.1 395.8 424.9 394.0 429.6C392.1 434.4 390.9 438.8 389.9 443.9C388.9 449.0 388.2 455.1 387.9 460.2C387.5 465.3 387.5 470.0 387.9 474.4C388.2 478.8 388.9 482.6 389.9 486.6C390.9 490.7 392.4 495.8 394.0 498.9C395.5 501.9 398.2 504.0 399.1 505.0" fill="none" stroke="#000" stroke-width="3.77" stroke-linecap="round" stroke-linejoin="round"/>
<path d="M423.5 362.4C424.2 361.6 426.6 358.8 428.0 357.3C429.4 355.9 431.4 354.3 432.1 353.6" fill="none" stroke="#000" stroke-width="3.52" stroke-linecap="round" stroke-linejoin="round"/>
<path d="M430.6 362.4C432.2 361.6 436.9 358.7 439.8 357.3C442.7 356.0 446.6 354.8 447.9 354.3" fill="none" stroke="#000" stroke-width="3.77" stroke-linecap="round" stroke-linejoin="round"/>
<path d="M437.8 366.9C439.1 366.2 443.2 364.0 445.9 362.8C448.6 361.6 451.3 360.6 454.1 359.8C456.8 358.9 460.8 358.1 462.2 357.7" fill="none" stroke="#000" stroke-width="3.03" stroke-linecap="round" stroke-linejoin="round"/>
<path d="M425.5 375.6C426.4 374.8 428.6 372.0 430.6 370.5C432.7 369.1 436.6 367.5 437.8 366.9" fill="none" stroke="#000" stroke-width="3.03" stroke-linecap="round" stroke-linejoin="round"/>
<path d="M442.9 373.6C444.0 373.1 447.6 371.8 450.0 370.5C452.4 369.3 454.7 367.2 457.1 366.1C459.5 365.0 462.6 363.6 464.2 364.0C465.8 364.5 466.3 368.1 466.7 368.9" fill="none" stroke="#000" stroke-width="2.30" stroke-linecap="round" stroke-linejoin="round"/>
<path d="M451.0 383.8C450.8 382.6 449.5 378.9 450.0 376.7C450.4 374.5 453.0 371.6 453.6 370.5" fill="none" stroke="#000" stroke-width="2.30" stroke-linecap="round" stroke-linejoin="round"/>
<path d="M425.5 378.7C426.2 379.9 428.2 383.7 429.6 385.8C431.0 387.9 432.0 389.6 434.1 391.3C436.2 393.1 440.9 395.4 442.2 396.2" fill="none" stroke="#000" stroke-width="2.54" stroke-linecap="round" stroke-linejoin="round"/>
<path d="M404.8 408.2C406.2 407.9 410.7 406.1 413.3 406.2C415.9 406.3 418.1 407.7 420.4 408.8C422.8 410.0 425.7 412.8 427.6 412.9C429.4 413.0 431.0 410.2 431.6 409.7" fill="none" stroke="#000" stroke-width="4.01" stroke-linecap="round" stroke-linejoin="round"/>
<path d="M409.2 420.7L418.4 418.6" fill="none" stroke="#000" stroke-width="2.54" stroke-linecap="round" stroke-linejoin="round"/>
<path d="M399.1 434.9C401.1 434.1 407.4 431.2 411.3 430.0C415.2 428.8 420.6 428.2 422.5 427.8" fill="none" stroke="#000" stroke-width="3.03" stroke-linecap="round" stroke-linejoin="round"/>
<path d="M396.0 441.8C396.9 442.6 399.4 446.3 401.1 446.3C402.8 446.3 405.5 442.6 406.4 441.8" fill="none" stroke="#000" stroke-width="2.54" stroke-linecap="round" stroke-linejoin="round"/>
<path d="M391.9 468.3C393.0 467.5 396.4 464.8 398.0 463.4C399.6 462.1 400.9 460.7 401.5 460.2" fill="none" stroke="#000" stroke-width="2.54" stroke-linecap="round" stroke-linejoin="round"/>
<path d="M393.0 473.4C393.5 474.6 395.7 478.5 396.0 480.5C396.3 482.6 395.2 484.9 395.0 485.8" fill="none" stroke="#000" stroke-width="2.54" stroke-linecap="round" stroke-linejoin="round"/>
<path d="M376.3 462.2L379.9 463.0" fill="none" stroke="#000" stroke-width="2.30" stroke-linecap="round" stroke-linejoin="round"/>
<path d="M376.7 470.3L377.1 480.5" fill="none" stroke="#000" stroke-width="2.30" stroke-linecap="round" stroke-linejoin="round"/>
<path d="M402.1 501.9L409.2 498.9" fill="none" stroke="#000" stroke-width="3.03" stroke-linecap="round" stroke-linejoin="round"/>
<ellipse cx="411.7" cy="509.5" rx="3.87" ry="2.85" fill="#000" transform="rotate(35 411.7 509.5)"/>
<path d="M385.8 478.5L388.9 486.6" fill="none" stroke="#000" stroke-width="2.54" stroke-linecap="round" stroke-linejoin="round"/>
<path d="M478.5 387.9C479.2 387.0 481.1 384.3 482.6 382.8C484.0 381.2 485.2 380.2 487.0 378.7C488.9 377.2 492.6 374.5 493.8 373.6" fill="none" stroke="#000" stroke-width="2.79" stroke-linecap="round" stroke-linejoin="round"/>
<ellipse cx="496.8" cy="370.5" rx="2.85" ry="4.07" fill="#000" transform="rotate(30 496.8 370.5)"/>
<path d="M528.4 410.3C528.7 411.8 529.9 416.5 530.4 419.4C531.0 422.3 531.6 426.2 531.9 427.6" fill="none" stroke="#000" stroke-width="3.03" stroke-linecap="round" stroke-linejoin="round"/>
<path d="M531.9 427.6C532.0 429.6 532.9 435.4 532.5 439.8C532.1 444.2 531.2 449.3 529.4 454.1C527.6 458.8 523.0 465.9 521.7 468.3" fill="none" stroke="#000" stroke-width="5.97" stroke-linecap="round" stroke-linejoin="round"/>
<path d="M521.7 468.3C519.6 470.1 512.5 476.5 509.0 478.9C505.6 481.3 502.3 482.3 500.9 483.0" fill="none" stroke="#000" stroke-width="4.50" stroke-linecap="round" stroke-linejoin="round"/>
<path d="M500.9 483.0C499.5 483.6 495.5 485.4 492.7 486.6C490.0 487.9 486.0 489.7 484.6 490.3" fill="none" stroke="#000" stroke-width="6.94" stroke-linecap="round" stroke-linejoin="round"/>
<path d="M484.6 490.3C482.2 491.2 474.8 494.5 470.3 495.8C465.9 497.1 462.2 497.9 458.1 497.8C454.1 497.7 447.9 495.6 445.9 495.2" fill="none" stroke="#000" stroke-width="4.01" stroke-linecap="round" stroke-linejoin="round"/>
<path d="M445.9 495.2C444.5 494.6 440.5 493.0 437.8 491.7C435.0 490.5 431.0 488.3 429.6 487.7" fill="none" stroke="#000" stroke-width="2.79" stroke-linecap="round" stroke-linejoin="round"/>
<path d="M517.2 441.8L525.3 443.9" fill="none" stroke="#000" stroke-width="2.30" stroke-linecap="round" stroke-linejoin="round"/>
<path d="M533.5 421.5L534.5 430.6" fill="none" stroke="#000" stroke-width="2.30" stroke-linecap="round" stroke-linejoin="round"/>
<path d="M474.8 447.9C474.4 450.0 474.1 456.8 472.4 460.2C470.7 463.6 466.3 464.9 464.6 468.3C462.9 471.7 461.8 477.3 462.2 480.5C462.6 483.8 465.3 485.8 467.3 487.7C469.3 489.5 473.2 491.1 474.4 491.7" fill="none" stroke="#000" stroke-width="2.30" stroke-linecap="round" stroke-linejoin="round"/>
<path d="M439.8 514.1C440.8 513.0 443.5 508.9 445.9 507.4C448.3 506.0 451.3 504.7 454.1 505.4C456.8 506.1 459.5 510.0 462.2 511.5C464.9 513.0 467.3 513.5 470.3 514.5C473.4 515.6 478.8 517.1 480.5 517.6" fill="none" stroke="#000" stroke-width="3.28" stroke-linecap="round" stroke-linejoin="round"/>
<path d="M480.5 498.2C479.9 499.7 478.2 504.5 476.5 507.0C474.8 509.6 471.4 512.4 470.3 513.5" fill="none" stroke="#000" stroke-width="4.99" stroke-linecap="round" stroke-linejoin="round"/>
<path d="M472.4 503.3C473.4 504.5 476.8 508.0 478.5 510.1C480.2 512.1 481.9 514.6 482.6 515.6" fill="none" stroke="#000" stroke-width="4.50" stroke-linecap="round" stroke-linejoin="round"/>
<path d="M482.6 513.1L492.7 510.1" fill="none" stroke="#000" stroke-width="2.30" stroke-linecap="round" stroke-linejoin="round"/>
<path d="M451.0 504.0L458.1 509.0" fill="none" stroke="#000" stroke-width="2.30" stroke-linecap="round" stroke-linejoin="round"/>
</g>
</g>
<g id="d5side">
<path d="M64.1 659.6C64.1 657.1 70.2 653.2 74.3 649.4C78.3 645.7 83.4 641.8 88.5 637.2C93.6 632.6 99.4 627.4 104.8 621.9C110.2 616.5 115.7 609.6 121.1 604.6C126.5 599.6 132.3 594.5 137.4 592.0C142.5 589.5 144.2 589.9 151.6 589.3C159.1 588.8 172.0 588.9 182.2 588.7C192.4 588.6 202.6 588.5 212.7 588.3C222.9 588.2 234.1 588.1 243.3 587.9C252.5 587.8 261.0 587.2 267.7 587.3C274.5 587.4 277.9 587.5 284.0 588.7C290.1 589.9 297.6 592.3 304.4 594.4C311.2 596.6 318.7 599.4 324.8 601.6C330.9 603.8 336.3 606.3 341.1 607.7C345.8 609.0 350.1 608.4 353.3 609.7C356.4 611.1 359.0 612.9 360.0 615.8C361.0 618.7 361.5 623.5 359.4 627.0C357.3 630.6 350.6 633.8 347.2 637.2C343.8 640.6 341.4 643.3 339.0 647.4C336.6 651.5 335.6 657.2 332.9 661.6C330.2 666.1 325.3 669.8 322.7 673.9C320.2 677.9 319.0 681.3 317.6 686.1C316.3 690.8 315.4 697.3 314.6 702.4C313.7 707.5 313.4 711.5 312.5 716.6C311.7 721.7 310.2 728.5 309.5 732.9C308.8 737.3 307.5 740.2 308.5 743.1C309.5 746.1 317.0 749.3 315.6 750.7C314.2 752.0 305.6 751.2 300.3 751.3C295.1 751.3 291.8 751.2 284.0 750.9C276.2 750.5 263.7 749.6 253.5 749.2C243.3 748.9 233.1 748.8 222.9 748.8C212.7 748.8 202.6 749.2 192.4 749.2C182.2 749.3 172.0 749.3 161.8 749.2C151.6 749.2 141.3 748.9 131.3 748.8C121.3 748.8 105.7 750.1 101.8 748.8C97.8 747.5 107.0 744.4 107.9 741.1C108.7 737.8 107.5 733.6 106.8 728.9C106.2 724.1 105.1 717.7 103.8 712.6C102.4 707.5 100.4 702.7 98.7 698.3C97.0 693.9 96.0 690.2 93.6 686.1C91.2 682.0 87.7 677.4 84.4 673.9C81.2 670.3 77.7 667.1 74.3 664.7C70.9 662.3 64.1 662.2 64.1 659.6Z" fill="none" stroke="#3f6bc7" stroke-width="4.3" stroke-dasharray="16.01 12.81" stroke-dashoffset="0.00"/>
<g filter="url(#rough)">
<path d="M125.2 692.2C124.5 693.9 121.4 698.3 121.1 702.4C120.8 706.5 122.0 712.2 123.5 716.6C125.1 721.1 129.1 726.8 130.3 728.9" fill="none" stroke="#000" stroke-width="9.30" stroke-linecap="round" stroke-linejoin="round"/>
<path d="M130.3 728.9C132.1 730.2 136.9 734.9 141.5 737.0C146.0 739.1 152.3 740.9 157.8 741.5C163.2 742.1 171.3 740.8 174.1 740.7" fill="none" stroke="#000" stroke-width="6.37" stroke-linecap="round" stroke-linejoin="round"/>
<path d="M174.1 740.7C176.8 740.1 184.9 738.3 190.3 737.4C195.8 736.5 201.2 736.2 206.6 735.4C212.1 734.5 217.8 732.8 222.9 732.3C228.0 731.8 234.8 732.3 237.2 732.3" fill="none" stroke="#000" stroke-width="7.83" stroke-linecap="round" stroke-linejoin="round"/>
<path d="M237.2 732.3C239.9 732.9 248.1 734.7 253.5 736.0C258.9 737.3 264.7 739.2 269.8 740.1C274.9 740.9 280.3 741.6 284.0 741.1C287.8 740.6 290.0 739.7 292.2 737.0C294.4 734.3 295.6 729.5 297.3 724.8C299.0 720.0 300.8 713.9 302.4 708.5C303.9 703.1 305.2 697.3 306.4 692.2C307.6 687.1 308.3 682.4 309.5 677.9C310.7 673.5 312.9 667.8 313.6 665.7" fill="none" stroke="#000" stroke-width="5.88" stroke-linecap="round" stroke-linejoin="round"/>
<path d="M316.0 618.5C317.7 617.7 322.1 620.8 324.8 622.5C327.5 624.3 330.6 625.9 332.3 629.1C334.0 632.2 335.1 637.2 334.9 641.3C334.8 645.4 333.0 649.8 331.3 653.5C329.6 657.2 327.1 660.9 324.8 663.7C322.4 666.5 318.9 670.2 317.0 670.2C315.2 670.2 314.7 665.7 313.6 663.7C312.5 661.6 311.6 659.7 310.5 658.0C309.4 656.3 307.0 655.3 307.0 653.5C307.0 651.7 309.3 650.1 310.5 647.4C311.8 644.7 313.9 640.6 314.6 637.2C315.3 633.8 314.3 630.1 314.6 627.0C314.8 623.9 314.3 619.2 316.0 618.5Z" fill="#000"/>
<path d="M311.5 612.2C312.7 611.8 315.8 609.8 318.7 609.9C321.5 610.0 326.1 611.7 328.8 612.8C331.6 613.9 333.9 615.8 334.9 616.4" fill="none" stroke="#000" stroke-width="4.41" stroke-linecap="round" stroke-linejoin="round"/>
<path d="M188.3 609.7C189.2 608.5 191.4 604.0 193.4 602.2C195.4 600.4 199.0 599.5 200.1 598.9" fill="none" stroke="#000" stroke-width="4.90" stroke-linecap="round" stroke-linejoin="round"/>
<path d="M208.7 603.6C210.0 604.3 215.1 606.2 216.8 607.7C218.5 609.2 219.4 611.0 218.9 612.8C218.4 614.5 214.6 617.4 213.8 618.3" fill="none" stroke="#000" stroke-width="2.94" stroke-linecap="round" stroke-linejoin="round"/>
<path d="M222.9 600.5L227.4 605.0" fill="none" stroke="#000" stroke-width="2.94" stroke-linecap="round" stroke-linejoin="round"/>
<path d="M227.0 613.8C229.7 614.0 238.5 614.4 243.3 614.8C248.1 615.2 253.8 615.8 255.9 616.0" fill="none" stroke="#000" stroke-width="2.46" stroke-linecap="round" stroke-linejoin="round"/>
<path d="M260.0 607.1C261.1 605.4 265.0 604.1 267.7 605.0C270.5 606.0 275.5 610.1 276.3 612.8C277.0 615.5 274.3 619.9 272.2 621.3C270.1 622.7 265.5 622.4 263.7 621.3C261.8 620.2 261.8 617.2 261.2 614.8C260.6 612.4 258.9 608.7 260.0 607.1Z" fill="#000"/>
<path d="M273.8 606.7C275.2 607.3 280.1 609.1 282.0 610.3C283.9 611.5 284.5 613.2 285.1 613.8" fill="none" stroke="#000" stroke-width="6.37" stroke-linecap="round" stroke-linejoin="round"/>
<path d="M275.9 617.3C278.3 617.5 285.6 618.4 290.1 618.9C294.7 619.3 301.2 619.7 303.4 619.9" fill="none" stroke="#000" stroke-width="5.39" stroke-linecap="round" stroke-linejoin="round"/>
<path d="M271.8 624.6L284.0 623.4" fill="none" stroke="#000" stroke-width="3.43" stroke-linecap="round" stroke-linejoin="round"/>
<path d="M166.9 632.1C168.5 632.6 173.2 634.0 176.1 635.2C179.0 636.4 182.9 638.6 184.2 639.2" fill="none" stroke="#000" stroke-width="2.94" stroke-linecap="round" stroke-linejoin="round"/>
<path d="M237.2 636.2L243.3 641.3" fill="none" stroke="#000" stroke-width="3.43" stroke-linecap="round" stroke-linejoin="round"/>
<path d="M255.5 642.3C256.0 643.8 257.9 648.2 258.6 651.5C259.3 654.7 259.4 660.0 259.6 661.6" fill="none" stroke="#000" stroke-width="2.46" stroke-linecap="round" stroke-linejoin="round"/>
<path d="M280.0 635.6L289.1 634.8" fill="none" stroke="#000" stroke-width="2.94" stroke-linecap="round" stroke-linejoin="round"/>
<path d="M280.6 651.9C280.9 649.8 283.7 647.1 286.1 646.4C288.4 645.6 292.9 646.2 294.6 647.4C296.4 648.6 297.3 651.7 296.7 653.5C296.0 655.3 292.7 657.1 290.5 658.0C288.4 658.9 285.7 660.0 284.0 659.0C282.4 658.0 280.2 654.0 280.6 651.9Z" fill="#000"/>
<path d="M290.1 655.5C290.8 657.2 293.5 662.5 294.2 665.7C294.9 668.9 294.2 673.4 294.2 674.9" fill="none" stroke="#000" stroke-width="7.83" stroke-linecap="round" stroke-linejoin="round"/>
<ellipse cx="277.9" cy="682.0" rx="11.20" ry="4.48" fill="#000" transform="rotate(-8 277.9 682.0)"/>
<path d="M216.8 694.6C218.5 693.3 225.3 691.2 229.0 690.6C232.8 689.9 236.1 691.1 239.2 690.6C242.3 690.0 248.4 686.1 247.8 687.1C247.2 688.1 239.4 694.2 235.6 696.7C231.8 699.1 227.8 701.4 225.0 701.8C222.2 702.1 220.2 699.9 218.9 698.7C217.5 697.5 215.1 696.0 216.8 694.6Z" fill="#000"/>
<path d="M192.4 704.8C193.1 703.7 205.3 701.7 207.0 702.4C208.7 703.1 205.0 708.5 202.6 708.9C200.1 709.3 191.6 705.9 192.4 704.8Z" fill="#000"/>
<path d="M208.7 719.7C210.0 718.6 214.4 714.5 216.8 713.0C219.2 711.4 221.9 710.9 222.9 710.5" fill="none" stroke="#000" stroke-width="3.43" stroke-linecap="round" stroke-linejoin="round"/>
<path d="M145.5 652.9C147.0 653.4 151.4 653.5 154.1 655.9C156.8 658.4 159.2 664.1 161.8 667.8C164.5 671.4 167.2 674.9 170.0 677.9C172.8 681.0 175.1 685.3 178.5 686.1C181.9 686.8 186.3 683.2 190.3 682.4C194.4 681.6 197.8 681.4 202.6 681.2C207.3 681.0 214.0 681.2 218.9 681.2C223.7 681.2 229.4 681.2 231.5 681.2" fill="none" stroke="#000" stroke-width="4.90" stroke-linecap="round" stroke-linejoin="round"/>
<path d="M145.5 652.9C144.4 654.4 139.3 658.8 138.6 661.6C137.9 664.5 139.6 667.8 141.5 669.8C143.3 671.8 146.2 672.8 149.6 673.9C153.0 675.0 157.8 674.3 161.8 676.3C165.9 678.4 172.0 684.5 174.1 686.1" fill="none" stroke="#000" stroke-width="4.41" stroke-linecap="round" stroke-linejoin="round"/>
<path d="M222.9 671.8L226.2 680.0" fill="none" stroke="#000" stroke-width="2.94" stroke-linecap="round" stroke-linejoin="round"/>
<path d="M147.6 675.9C146.9 677.9 144.2 683.4 143.5 688.1C142.8 692.9 143.2 699.3 143.5 704.4C143.8 709.5 144.2 714.3 145.5 718.7C146.9 723.1 149.5 727.7 151.6 730.9C153.8 734.1 157.1 736.8 158.2 738.0" fill="none" stroke="#000" stroke-width="4.41" stroke-linecap="round" stroke-linejoin="round"/>
<path d="M107.9 676.9C109.4 677.6 114.5 679.3 117.0 681.0C119.6 682.7 120.8 686.1 123.1 687.1C125.5 688.2 128.2 687.5 131.3 687.3C134.3 687.1 139.8 686.3 141.5 686.1" fill="none" stroke="#000" stroke-width="4.41" stroke-linecap="round" stroke-linejoin="round"/>
<path d="M116.0 694.2C116.9 693.4 118.9 690.4 121.1 689.3C123.3 688.3 127.9 688.3 129.2 688.1" fill="none" stroke="#000" stroke-width="3.92" stroke-linecap="round" stroke-linejoin="round"/>
<path d="M149.6 688.1C150.6 689.5 154.4 692.9 155.7 696.3C157.1 699.7 158.1 704.8 157.8 708.5C157.4 712.2 154.4 717.0 153.7 718.7" fill="none" stroke="#000" stroke-width="7.34" stroke-linecap="round" stroke-linejoin="round"/>
<path d="M153.7 718.7C151.6 719.4 145.5 722.3 141.5 723.2C137.4 724.0 131.3 723.8 129.2 724.0" fill="none" stroke="#000" stroke-width="4.90" stroke-linecap="round" stroke-linejoin="round"/>
<path d="M182.2 688.5C180.2 690.2 173.4 695.0 170.0 698.3C166.6 701.6 164.2 705.4 161.8 708.5C159.5 711.5 156.7 715.3 155.7 716.6" fill="none" stroke="#000" stroke-width="6.85" stroke-linecap="round" stroke-linejoin="round"/>
<path d="M192.4 687.7C191.0 689.1 187.3 693.8 184.2 696.3C181.2 698.8 175.8 701.7 174.1 702.8" fill="none" stroke="#000" stroke-width="3.92" stroke-linecap="round" stroke-linejoin="round"/>
<path d="M200.5 686.1C199.2 687.1 195.1 689.8 192.4 692.2C189.7 694.6 185.6 699.0 184.2 700.3" fill="none" stroke="#000" stroke-width="3.43" stroke-linecap="round" stroke-linejoin="round"/>
</g>
</g>
<g id="d5top">
<path d="M415.4 567.4C419.8 565.9 423.8 565.4 429.6 565.0C435.4 564.6 442.9 564.6 450.0 565.0C457.1 565.4 464.9 565.9 472.4 567.4C479.9 569.0 488.0 571.7 494.8 574.2C501.6 576.6 507.3 578.7 513.1 582.3C518.9 585.9 524.7 590.6 529.4 595.5C534.2 600.5 538.4 606.4 541.6 611.8C544.9 617.3 546.9 622.4 548.8 628.1C550.6 633.9 551.8 640.0 552.8 646.5C553.8 652.9 554.9 660.0 554.9 666.8C554.9 673.6 554.0 681.1 552.8 687.2C551.6 693.3 549.9 698.1 547.7 703.5C545.5 708.9 542.6 714.7 539.6 719.8C536.5 724.9 533.5 729.8 529.4 734.0C525.3 738.3 520.2 742.4 515.2 745.2C510.1 748.1 504.6 749.8 498.9 751.4C493.1 752.9 486.6 753.6 480.5 754.4C474.4 755.3 468.0 756.4 462.2 756.4C456.4 756.4 451.3 755.4 445.9 754.4C440.5 753.4 435.4 752.4 429.6 750.3C423.8 748.3 416.7 745.6 411.3 742.2C405.9 738.8 401.4 734.7 397.0 730.0C392.6 725.2 388.2 719.4 384.8 713.7C381.4 707.9 378.7 701.8 376.7 695.3C374.6 688.9 373.4 681.8 372.6 675.0C371.7 668.2 371.6 661.4 371.6 654.6C371.6 647.8 371.9 640.7 372.6 634.2C373.3 627.8 373.9 621.7 375.6 615.9C377.3 610.1 379.9 604.7 382.8 599.6C385.7 594.5 389.6 589.6 393.0 585.4C396.3 581.1 399.4 577.2 403.1 574.2C406.9 571.2 410.9 569.0 415.4 567.4Z" fill="none" stroke="#3f6bc7" stroke-width="4.3" stroke-dasharray="15.95 12.76" stroke-dashoffset="0.00"/>
<g filter="url(#rough)">
<path d="M434.1 585.4C433.0 587.4 429.7 594.0 427.6 597.6C425.5 601.2 422.5 605.2 421.5 606.8" fill="none" stroke="#000" stroke-width="3.03" stroke-linecap="round" stroke-linejoin="round"/>
<path d="M421.5 606.8C420.6 608.1 418.1 612.0 416.4 614.9C414.7 617.8 412.1 622.5 411.3 624.1" fill="none" stroke="#000" stroke-width="5.97" stroke-linecap="round" stroke-linejoin="round"/>
<path d="M411.3 624.1C410.1 626.8 406.2 634.9 404.2 640.4C402.1 645.8 400.4 652.2 399.1 656.6C397.7 661.1 396.5 665.1 396.0 666.8" fill="none" stroke="#000" stroke-width="3.52" stroke-linecap="round" stroke-linejoin="round"/>
<path d="M395.4 668.9C395.3 670.6 394.7 675.7 395.0 679.1C395.3 682.4 397.0 687.5 397.4 689.2" fill="none" stroke="#000" stroke-width="5.97" stroke-linecap="round" stroke-linejoin="round"/>
<path d="M397.4 689.2C397.8 690.4 398.7 694.3 399.5 696.4C400.3 698.5 401.8 700.9 402.3 701.9" fill="none" stroke="#000" stroke-width="3.03" stroke-linecap="round" stroke-linejoin="round"/>
<path d="M441.8 580.7L445.9 577.2" fill="none" stroke="#000" stroke-width="2.79" stroke-linecap="round" stroke-linejoin="round"/>
<path d="M429.6 596.0C431.3 595.9 436.4 596.3 439.8 595.5C443.2 594.8 448.3 592.2 450.0 591.5" fill="none" stroke="#000" stroke-width="3.03" stroke-linecap="round" stroke-linejoin="round"/>
<path d="M423.5 601.7C421.1 602.2 413.7 603.5 409.2 604.7C404.8 605.9 399.9 606.9 397.0 608.8C394.2 610.7 393.0 614.7 392.1 615.9" fill="none" stroke="#000" stroke-width="2.54" stroke-linecap="round" stroke-linejoin="round"/>
<path d="M421.5 605.7C419.4 607.1 413.0 611.9 409.2 613.9C405.5 615.8 400.8 616.8 399.1 617.3" fill="none" stroke="#000" stroke-width="2.54" stroke-linecap="round" stroke-linejoin="round"/>
<path d="M386.8 630.2L394.2 622.0" fill="none" stroke="#000" stroke-width="2.54" stroke-linecap="round" stroke-linejoin="round"/>
<ellipse cx="462.2" cy="585.4" rx="3.67" ry="3.26" fill="#000"/>
<path d="M462.2 585.4C463.2 584.5 466.2 582.0 468.3 580.3C470.4 578.6 473.7 576.0 474.8 575.2" fill="none" stroke="#000" stroke-width="3.77" stroke-linecap="round" stroke-linejoin="round"/>
<path d="M462.2 590.7C463.9 590.7 469.6 590.9 472.4 591.1C475.2 591.3 477.8 591.7 478.9 591.9" fill="none" stroke="#000" stroke-width="2.30" stroke-linecap="round" stroke-linejoin="round"/>
<ellipse cx="474.4" cy="596.0" rx="1.63" ry="1.63" fill="#000"/>
<path d="M453.0 599.6L462.2 599.6" fill="none" stroke="#000" stroke-width="2.30" stroke-linecap="round" stroke-linejoin="round"/>
<path d="M493.2 593.9C494.4 594.5 498.9 595.7 500.9 597.6C502.9 599.5 504.6 604.0 505.4 605.3" fill="none" stroke="#000" stroke-width="5.48" stroke-linecap="round" stroke-linejoin="round"/>
<path d="M505.4 605.3L509.5 614.9" fill="none" stroke="#000" stroke-width="3.52" stroke-linecap="round" stroke-linejoin="round"/>
<path d="M521.3 618.4C522.1 619.7 525.2 622.8 526.4 626.1C527.5 629.4 528.4 634.2 528.4 638.3C528.4 642.4 526.7 648.5 526.4 650.5" fill="none" stroke="#000" stroke-width="7.43" stroke-linecap="round" stroke-linejoin="round"/>
<path d="M526.4 650.5C526.7 652.2 527.4 657.3 528.4 660.7C529.4 664.1 531.6 667.2 532.5 670.9C533.3 674.6 533.7 679.1 533.5 683.1C533.3 687.2 531.9 692.4 531.4 695.3C531.0 698.3 530.8 700.1 530.6 701.0" fill="none" stroke="#000" stroke-width="4.50" stroke-linecap="round" stroke-linejoin="round"/>
<path d="M421.5 643.4C422.8 642.2 426.9 637.9 429.6 636.3C432.3 634.6 435.0 633.3 437.8 633.4C440.5 633.6 443.4 635.3 445.9 637.3C448.5 639.3 450.3 643.7 453.0 645.4C455.8 647.2 459.3 647.2 462.2 647.7C465.1 648.2 467.3 649.0 470.3 648.5C473.4 648.0 478.1 646.1 480.5 644.8C483.0 643.5 484.3 641.4 485.0 640.8" fill="none" stroke="#000" stroke-width="3.03" stroke-linecap="round" stroke-linejoin="round"/>
<ellipse cx="484.2" cy="641.6" rx="2.65" ry="3.26" fill="#000"/>
<path d="M396.0 664.8C397.5 663.9 401.9 659.7 405.2 659.7C408.4 659.7 412.0 663.3 415.4 664.8C418.8 666.3 421.8 667.9 425.5 668.9C429.3 669.9 434.7 669.7 437.8 670.9C440.8 672.1 441.2 675.5 443.9 676.0C446.6 676.5 449.6 674.6 454.1 674.0C458.5 673.3 464.9 671.9 470.3 671.9C475.8 671.9 481.2 673.3 486.6 674.0C492.1 674.6 498.2 675.3 502.9 676.0C507.7 676.7 511.8 677.5 515.2 678.0C518.5 678.5 520.9 679.6 523.3 679.1C525.7 678.5 528.4 675.7 529.4 675.0" fill="none" stroke="#000" stroke-width="4.50" stroke-linecap="round" stroke-linejoin="round"/>
<ellipse cx="444.3" cy="663.8" rx="2.65" ry="2.65" fill="#000"/>
<ellipse cx="463.8" cy="662.4" rx="1.83" ry="1.83" fill="#000"/>
<path d="M490.7 666.8C491.7 666.2 494.4 663.7 496.8 663.0C499.2 662.2 503.6 662.5 505.0 662.4" fill="none" stroke="#000" stroke-width="2.54" stroke-linecap="round" stroke-linejoin="round"/>
<path d="M443.9 677.0C441.8 678.0 435.7 681.1 431.6 683.1C427.6 685.2 423.2 687.7 419.4 689.2C415.7 690.8 410.8 689.8 409.2 692.5C407.7 695.2 409.9 701.5 410.3 705.5C410.6 709.6 411.1 714.9 411.3 716.7" fill="none" stroke="#000" stroke-width="3.52" stroke-linecap="round" stroke-linejoin="round"/>
<path d="M406.8 717.1C409.2 716.9 416.3 715.6 421.5 715.7C426.6 715.8 432.3 716.7 437.8 717.7C443.2 718.8 449.1 720.6 454.1 721.8C459.0 723.0 465.3 724.4 467.5 724.9" fill="none" stroke="#000" stroke-width="3.52" stroke-linecap="round" stroke-linejoin="round"/>
<path d="M425.5 730.0L436.7 732.0" fill="none" stroke="#000" stroke-width="2.30" stroke-linecap="round" stroke-linejoin="round"/>
<path d="M454.1 727.9C455.1 729.0 459.3 731.7 460.2 734.0C461.0 736.4 459.9 739.8 459.3 742.2C458.8 744.6 457.5 747.3 457.1 748.3" fill="none" stroke="#000" stroke-width="2.54" stroke-linecap="round" stroke-linejoin="round"/>
<path d="M465.3 747.3C466.8 746.4 471.2 744.1 474.4 742.2C477.6 740.3 482.9 737.1 484.6 736.1" fill="none" stroke="#000" stroke-width="2.30" stroke-linecap="round" stroke-linejoin="round"/>
<ellipse cx="491.1" cy="718.8" rx="3.87" ry="8.15" fill="#000" transform="rotate(-12 491.1 718.8)"/>
<path d="M498.9 705.5C499.6 705.9 503.0 705.9 503.3 707.6C503.7 709.3 499.9 714.4 500.9 715.7C501.8 717.1 506.6 715.4 509.0 715.7C511.5 716.1 516.6 716.1 515.6 717.7C514.5 719.4 506.7 724.2 502.9 725.9C499.1 727.6 494.4 727.6 492.7 727.9" fill="none" stroke="#000" stroke-width="2.54" stroke-linecap="round" stroke-linejoin="round"/>
<path d="M491.7 727.9C493.6 727.1 498.9 724.9 502.9 722.8C507.0 720.7 514.0 716.6 516.2 715.3" fill="none" stroke="#000" stroke-width="3.03" stroke-linecap="round" stroke-linejoin="round"/>
<ellipse cx="506.6" cy="716.1" rx="4.07" ry="3.46" fill="#000"/>
</g>
</g>
<g id="d7side">
<path d="M104.6 839.0C105.5 837.0 108.7 835.6 112.8 832.9C116.8 830.2 123.3 826.1 129.1 822.7C134.8 819.3 142.0 815.7 147.4 812.5C152.8 809.4 156.2 806.3 161.6 804.0C167.1 801.7 173.5 800.0 180.0 798.9C186.4 797.8 193.6 797.4 200.3 797.5C207.1 797.5 213.6 798.2 220.7 799.1C227.8 800.0 235.6 801.6 243.1 803.0C250.6 804.4 257.7 805.5 265.5 807.5C273.3 809.4 282.5 812.0 290.0 814.6C297.4 817.1 304.2 820.0 310.3 822.7C316.4 825.4 321.9 827.8 326.6 830.9C331.4 833.9 335.6 837.3 338.8 841.1C342.1 844.8 344.9 848.9 346.0 853.3C347.0 857.7 346.1 863.1 344.9 867.5C343.8 872.0 341.2 875.7 338.8 879.8C336.5 883.8 332.5 887.9 330.7 892.0C328.9 896.1 328.4 899.8 328.2 904.2C328.1 908.6 330.2 913.7 329.9 918.5C329.5 923.2 327.6 928.0 326.2 932.7C324.9 937.5 322.9 942.9 321.7 947.0C320.6 951.0 320.0 953.7 319.3 957.2C318.6 960.6 321.0 965.9 317.5 967.7C313.9 969.6 305.4 968.6 298.1 968.4C290.8 968.1 281.1 966.1 273.7 966.3C266.2 966.5 260.1 968.4 253.3 969.4C246.5 970.4 239.7 971.6 232.9 972.4C226.1 973.3 219.4 973.6 212.6 974.5C205.8 975.3 198.3 976.8 192.2 977.5C186.1 978.2 181.0 978.9 175.9 978.5C170.8 978.2 166.4 977.3 161.6 975.5C156.9 973.6 152.5 970.7 147.4 967.3C142.3 963.9 135.4 959.2 131.1 955.1C126.8 951.0 124.3 947.3 121.3 942.9C118.3 938.5 114.8 933.4 113.2 928.6C111.6 923.9 112.5 919.1 111.8 914.4C111.0 909.6 109.5 905.2 108.7 900.1C107.8 895.0 106.8 889.3 106.7 883.8C106.5 878.4 107.3 872.3 107.7 867.5C108.1 862.8 109.1 859.1 109.1 855.3C109.1 851.6 108.4 847.9 107.7 845.1C106.9 842.4 103.8 841.1 104.6 839.0Z" fill="none" stroke="#3f6bc7" stroke-width="4.3" stroke-dasharray="15.72 12.58" stroke-dashoffset="6.60"/>
<g filter="url(#rough)">
<path d="M194.2 830.9C195.9 831.9 201.0 834.3 204.4 837.0C207.8 839.7 211.7 843.4 214.6 847.2C217.5 850.9 219.9 855.5 221.7 859.4C223.6 863.3 225.1 868.7 225.8 870.6" fill="none" stroke="#000" stroke-width="3.45" stroke-linecap="round" stroke-linejoin="round"/>
<path d="M169.8 856.3C171.2 857.5 175.2 861.3 177.9 863.5C180.7 865.7 182.7 868.7 186.1 869.6C189.5 870.4 194.2 867.9 198.3 868.6C202.4 869.2 207.1 870.8 210.5 873.6C213.9 876.5 217.3 883.8 218.7 885.9" fill="none" stroke="#000" stroke-width="4.47" stroke-linecap="round" stroke-linejoin="round"/>
<path d="M270.6 846.2C271.8 847.0 275.5 848.7 277.7 851.2C279.9 853.8 281.5 858.7 283.8 861.4C286.2 864.1 290.0 865.1 292.0 867.5C294.0 870.0 295.4 874.7 296.1 876.1" fill="none" stroke="#000" stroke-width="3.24" stroke-linecap="round" stroke-linejoin="round"/>
<path d="M163.7 816.2C165.0 815.9 168.9 814.9 171.8 814.6C174.8 814.2 179.6 814.2 181.2 814.2" fill="none" stroke="#000" stroke-width="3.65" stroke-linecap="round" stroke-linejoin="round"/>
<path d="M184.1 810.5C186.1 810.3 192.2 809.3 196.3 809.5C200.3 809.7 205.4 810.8 208.5 811.5C211.5 812.2 213.6 813.4 214.6 813.8" fill="none" stroke="#000" stroke-width="4.47" stroke-linecap="round" stroke-linejoin="round"/>
<path d="M176.3 832.9C177.8 831.2 184.5 830.6 186.1 831.3C187.7 832.0 186.6 836.3 186.1 837.0C185.6 837.7 183.9 834.7 183.0 835.4C182.2 836.0 182.0 840.0 181.0 841.1C180.0 842.1 177.7 842.8 176.9 841.5C176.1 840.1 174.8 834.6 176.3 832.9Z" fill="#000"/>
<ellipse cx="254.3" cy="842.1" rx="2.85" ry="3.87" fill="#000"/>
<path d="M231.9 852.3C233.3 851.2 237.6 854.6 238.0 856.3C238.5 858.0 235.9 861.4 234.6 862.4C233.2 863.5 230.3 864.1 229.9 862.4C229.4 860.8 230.6 853.3 231.9 852.3Z" fill="#000"/>
<path d="M270.6 821.7L275.7 824.8" fill="none" stroke="#000" stroke-width="4.47" stroke-linecap="round" stroke-linejoin="round"/>
<path d="M284.3 820.3C285.5 821.1 289.7 823.3 292.0 825.2C294.3 827.0 296.6 829.0 298.1 831.3C299.6 833.6 300.7 837.7 301.2 839.0" fill="none" stroke="#000" stroke-width="6.91" stroke-linecap="round" stroke-linejoin="round"/>
<path d="M301.2 839.0L296.5 847.6" fill="none" stroke="#000" stroke-width="4.47" stroke-linecap="round" stroke-linejoin="round"/>
<path d="M275.7 830.9C277.4 831.2 282.8 832.2 285.9 832.9C288.9 833.7 292.7 835.0 294.0 835.4" fill="none" stroke="#000" stroke-width="4.47" stroke-linecap="round" stroke-linejoin="round"/>
<path d="M300.1 839.4L308.3 836.0" fill="none" stroke="#000" stroke-width="3.24" stroke-linecap="round" stroke-linejoin="round"/>
<path d="M314.4 847.2C315.6 847.9 319.8 849.2 321.5 851.2C323.2 853.3 324.1 858.0 324.6 859.4" fill="none" stroke="#000" stroke-width="2.43" stroke-linecap="round" stroke-linejoin="round"/>
<path d="M317.5 865.9C318.6 865.5 321.8 864.2 324.6 863.5C327.3 862.7 332.4 861.8 334.0 861.4" fill="none" stroke="#000" stroke-width="3.65" stroke-linecap="round" stroke-linejoin="round"/>
<ellipse cx="327.0" cy="869.6" rx="2.44" ry="5.30" fill="#000"/>
<path d="M173.0 913.9C174.2 912.2 179.4 911.2 181.7 911.9C184.0 912.6 184.8 916.1 186.8 918.0C188.9 919.9 192.4 920.9 194.0 923.1C195.6 925.3 196.4 928.6 196.5 931.3C196.7 934.0 194.7 936.7 195.0 939.5C195.3 942.2 196.9 945.6 198.1 947.6C199.3 949.7 202.1 950.0 202.1 951.7C202.1 953.4 200.4 957.3 198.1 957.8C195.7 958.4 190.1 956.5 187.8 954.8C185.6 953.1 185.3 950.9 184.8 947.6C184.3 944.4 185.5 938.8 184.8 935.4C184.1 932.0 182.4 929.4 180.7 927.2C179.0 925.0 175.8 924.3 174.6 922.1C173.3 919.9 171.8 915.6 173.0 913.9Z" fill="#000"/>
<path d="M151.1 948.7C151.6 946.4 152.9 941.9 154.1 941.5C155.3 941.1 156.4 944.1 158.2 946.1C160.1 948.1 163.2 951.6 165.4 953.2C167.6 954.9 169.1 955.8 171.5 956.0C173.9 956.2 177.1 955.1 179.7 954.3C182.2 953.5 183.8 951.9 186.8 951.2C189.9 950.5 194.8 951.2 198.1 950.2C201.3 949.2 203.8 946.6 206.2 945.1C208.6 943.5 210.7 942.4 212.4 941.0C214.1 939.5 215.8 934.6 216.4 936.4C217.1 938.2 216.8 948.4 216.4 951.7C216.1 955.0 215.9 955.0 214.4 956.3C212.9 957.7 208.9 958.4 207.3 959.9C205.6 961.3 206.2 963.7 204.7 965.0C203.2 966.3 200.5 967.1 198.1 967.5C195.6 968.0 192.6 967.9 189.9 967.8C187.2 967.6 184.4 967.4 181.7 966.7C179.0 966.1 176.3 964.7 173.5 963.7C170.8 962.6 168.1 961.5 165.4 960.6C162.6 959.7 159.6 958.9 157.2 958.0C154.8 957.2 152.1 956.9 151.1 955.3C150.1 953.7 150.6 950.9 151.1 948.7Z" fill="#000"/>
<path d="M173.5 901.9C174.6 901.7 177.8 900.7 179.7 900.8C181.5 901.0 183.9 902.6 184.8 902.9" fill="none" stroke="#000" stroke-width="3.66" stroke-linecap="round" stroke-linejoin="round"/>
<ellipse cx="246.6" cy="914.1" rx="3.47" ry="3.06" fill="#000"/>
<ellipse cx="202.1" cy="917.2" rx="1.84" ry="1.43" fill="#000"/>
<path d="M186.8 913.9C188.2 913.4 192.4 911.7 195.0 910.9C197.5 910.0 201.0 909.2 202.1 908.8" fill="none" stroke="#000" stroke-width="2.43" stroke-linecap="round" stroke-linejoin="round"/>
<path d="M122.0 885.1C123.4 885.2 127.5 884.9 130.6 885.5C133.8 886.1 137.8 887.6 140.9 888.6C143.9 889.6 146.6 891.3 149.0 891.7C151.4 892.0 153.3 891.3 155.2 890.4C157.0 889.5 158.7 886.5 160.3 886.1C161.8 885.8 163.3 886.8 164.4 888.2C165.4 889.6 165.2 892.4 166.4 894.5C167.6 896.6 169.9 899.2 171.5 900.6C173.1 902.0 175.1 902.5 175.8 902.9" fill="none" stroke="#000" stroke-width="4.47" stroke-linecap="round" stroke-linejoin="round"/>
<path d="M119.2 892.1C120.4 892.1 124.0 892.0 126.6 892.1C129.1 892.2 132.3 892.5 134.7 892.7C137.1 892.8 140.0 893.0 141.1 893.1" fill="none" stroke="#000" stroke-width="3.66" stroke-linecap="round" stroke-linejoin="round"/>
<path d="M117.6 911.9C118.9 911.6 122.8 910.2 125.5 910.0C128.2 909.9 131.3 910.1 133.7 911.1C136.1 912.0 137.8 914.5 139.8 916.0C141.9 917.5 143.8 919.3 146.0 920.1C148.2 920.8 150.6 920.4 153.1 920.3C155.7 920.1 158.2 919.4 161.3 919.2C164.4 919.0 169.8 919.1 171.5 919.0" fill="none" stroke="#000" stroke-width="4.27" stroke-linecap="round" stroke-linejoin="round"/>
<path d="M129.6 917.0L133.9 914.1" fill="none" stroke="#000" stroke-width="2.84" stroke-linecap="round" stroke-linejoin="round"/>
<path d="M155.2 913.1C156.2 912.8 159.4 911.9 161.3 911.1C163.2 910.2 164.3 909.2 166.4 908.0C168.5 906.8 172.5 904.6 173.7 903.9" fill="none" stroke="#000" stroke-width="3.45" stroke-linecap="round" stroke-linejoin="round"/>
<path d="M150.6 905.2C152.2 903.2 159.1 899.5 160.3 899.4C161.5 899.3 158.5 902.8 157.7 904.7C156.9 906.7 156.9 910.0 155.7 911.1C154.5 912.2 151.4 912.3 150.6 911.4C149.7 910.4 148.9 907.2 150.6 905.2Z" fill="#000"/>
<path d="M118.6 919.0C119.4 919.9 122.0 922.1 123.5 924.1C125.0 926.2 126.9 930.1 127.6 931.3" fill="none" stroke="#000" stroke-width="2.84" stroke-linecap="round" stroke-linejoin="round"/>
<ellipse cx="131.9" cy="936.6" rx="7.56" ry="4.70" fill="#000" transform="rotate(40 131.9 936.6)"/>
<path d="M157.2 931.5C157.9 931.0 160.4 928.6 161.3 928.4C162.2 928.3 162.3 930.1 162.5 930.5" fill="none" stroke="#000" stroke-width="2.43" stroke-linecap="round" stroke-linejoin="round"/>
<path d="M170.7 937.6C171.5 937.0 174.1 934.9 175.6 933.8C177.1 932.8 179.2 931.7 179.9 931.3" fill="none" stroke="#000" stroke-width="4.47" stroke-linecap="round" stroke-linejoin="round"/>
<path d="M131.7 951.2C133.2 951.7 138.3 953.3 140.9 954.0C143.4 954.6 146.1 954.8 147.2 955.0" fill="none" stroke="#000" stroke-width="2.30" stroke-linecap="round" stroke-linejoin="round"/>
<path d="M266.1 925.2C266.9 923.8 268.1 922.6 270.2 921.1C272.2 919.5 275.6 917.2 278.3 916.0C281.1 914.8 283.8 914.4 286.5 913.9C289.2 913.4 292.3 913.4 294.7 912.9C297.1 912.4 298.8 911.0 300.8 910.9C302.8 910.7 305.1 912.2 306.9 911.9C308.8 911.5 310.2 909.2 312.0 908.8C313.9 908.4 316.7 908.1 318.2 909.3C319.6 910.5 320.3 913.3 320.7 916.0C321.1 918.6 321.3 922.6 320.7 925.2C320.1 927.7 318.6 929.4 317.1 931.3C315.7 933.2 314.1 935.0 312.0 936.4C310.0 937.8 307.4 938.6 304.9 939.5C302.3 940.3 299.4 940.8 296.7 941.5C294.0 942.2 291.1 943.5 288.5 943.5C286.0 943.5 283.4 942.4 281.4 941.5C279.4 940.7 277.8 938.6 276.3 938.4C274.8 938.3 273.6 939.6 272.2 940.5C270.8 941.3 269.5 943.4 268.1 943.5C266.8 943.7 264.4 942.9 264.0 941.5C263.7 940.1 265.9 937.4 266.1 935.4C266.2 933.3 265.1 930.9 265.1 929.2C265.1 927.5 265.2 926.5 266.1 925.2Z" fill="#000"/>
<path d="M294.2 870.0C294.5 871.0 295.6 874.3 296.2 876.1C296.8 878.0 297.3 880.4 297.5 881.2" fill="none" stroke="#000" stroke-width="2.84" stroke-linecap="round" stroke-linejoin="round"/>
<path d="M305.7 870.0C305.1 871.4 303.2 875.4 302.0 878.2C300.8 880.9 299.1 885.0 298.6 886.3" fill="none" stroke="#000" stroke-width="3.25" stroke-linecap="round" stroke-linejoin="round"/>
<path d="M295.7 881.2C296.7 880.0 299.4 881.4 299.8 883.3C300.2 885.2 298.8 889.6 297.9 892.5C297.1 895.4 295.9 897.9 294.9 900.6C293.9 903.4 292.6 906.8 291.8 908.8C291.0 910.9 291.3 912.4 290.3 912.9C289.3 913.4 286.5 913.6 286.0 911.9C285.5 910.2 287.0 905.8 287.5 902.7C288.0 899.6 288.0 895.5 289.1 893.5C290.1 891.5 292.7 892.5 293.9 890.4C295.0 888.4 294.7 882.4 295.7 881.2Z" fill="#000"/>
<path d="M260.5 889.6C260.5 888.6 262.3 887.0 264.0 887.6C265.7 888.2 268.2 891.7 270.7 893.3C273.1 894.9 276.8 896.1 278.8 897.4C280.8 898.6 281.7 898.9 282.6 900.6C283.6 902.4 285.5 907.5 284.5 908.0C283.4 908.5 278.7 905.4 276.3 903.9C273.9 902.4 272.2 900.5 270.2 898.8C268.1 897.1 265.6 895.2 264.0 893.7C262.4 892.2 260.5 890.6 260.5 889.6Z" fill="#000"/>
<path d="M231.3 894.7C233.0 893.9 239.0 891.1 241.6 889.6C244.1 888.1 245.8 886.2 246.7 885.5" fill="none" stroke="#000" stroke-width="2.30" stroke-linecap="round" stroke-linejoin="round"/>
<ellipse cx="247.9" cy="882.5" rx="2.66" ry="3.27" fill="#000" transform="rotate(30 247.9 882.5)"/>
<path d="M225.2 870.0C226.6 871.0 230.8 873.6 233.4 876.1C235.9 878.7 238.5 882.3 240.5 885.3C242.6 888.4 243.9 891.8 245.6 894.5C247.3 897.2 249.0 899.3 250.8 901.7C252.5 904.0 254.2 906.6 255.9 908.8C257.6 911.0 260.1 913.9 261.0 914.9" fill="none" stroke="#000" stroke-width="2.43" stroke-linecap="round" stroke-linejoin="round"/>
<path d="M248.7 902.7C249.6 902.3 252.2 900.0 253.8 900.1C255.4 900.3 257.4 901.9 258.4 903.7C259.4 905.5 260.4 909.3 259.9 910.9C259.5 912.4 257.2 913.2 255.9 912.9C254.5 912.6 252.5 909.5 251.8 908.8" fill="none" stroke="#000" stroke-width="2.33" stroke-linecap="round" stroke-linejoin="round"/>
<ellipse cx="248.7" cy="914.1" rx="3.27" ry="2.66" fill="#000"/>
<path d="M217.0 881.2C217.7 882.1 219.6 884.0 221.1 886.3C222.7 888.7 224.7 892.5 226.2 895.5C227.8 898.6 229.3 902.0 230.3 904.7C231.3 907.5 232.0 910.9 232.4 912.1" fill="none" stroke="#000" stroke-width="2.84" stroke-linecap="round" stroke-linejoin="round"/>
<path d="M295.7 942.5C295.4 943.7 294.8 947.5 293.7 949.7C292.5 951.9 290.6 954.3 288.5 955.8C286.5 957.3 283.8 958.4 281.4 958.9C279.0 959.4 275.4 958.9 274.2 958.9" fill="none" stroke="#000" stroke-width="3.25" stroke-linecap="round" stroke-linejoin="round"/>
<path d="M304.4 943.7C304.8 944.9 305.7 948.7 306.9 950.7C308.2 952.7 312.0 954.3 312.0 956.0C312.0 957.7 309.5 959.8 306.9 960.9C304.4 962.0 300.1 962.3 296.7 962.4C293.3 962.6 288.2 962.0 286.5 961.9" fill="none" stroke="#000" stroke-width="2.63" stroke-linecap="round" stroke-linejoin="round"/>
<ellipse cx="258.1" cy="957.0" rx="8.17" ry="5.11" fill="#000" transform="rotate(-20 258.1 957.0)"/>
<path d="M237.7 960.9C238.8 960.9 242.8 960.6 244.6 961.1C246.5 961.6 248.0 963.5 248.7 964.0" fill="none" stroke="#000" stroke-width="3.45" stroke-linecap="round" stroke-linejoin="round"/>
<path d="M210.5 921.3C211.1 920.6 211.4 918.4 212.4 917.6C213.4 916.8 214.7 916.3 216.7 916.4C218.6 916.5 221.4 918.4 224.0 918.2C226.5 918.0 229.1 915.2 231.9 915.2C234.8 915.2 240.0 916.4 241.1 918.2C242.2 920.0 237.8 923.7 238.6 925.8C239.5 928.0 243.7 929.5 246.0 931.0C248.2 932.6 250.3 934.1 252.1 935.3C253.9 936.5 255.4 938.1 257.0 938.4C258.5 938.7 259.8 937.2 261.2 937.2C262.7 937.1 263.8 937.6 265.5 938.1C267.3 938.6 270.0 939.6 271.6 940.2C273.3 940.8 275.9 940.8 275.3 941.4C274.7 942.0 270.6 943.7 268.0 943.9C265.3 944.1 262.4 943.0 259.4 942.6C256.5 942.3 252.8 941.5 250.3 942.0C247.7 942.5 246.7 945.0 244.1 945.7C241.6 946.4 238.0 946.0 235.0 946.3C231.9 946.6 228.9 946.7 225.8 947.5C222.8 948.3 219.2 949.9 216.7 951.2C214.1 952.5 214.6 954.5 210.5 955.2C206.5 955.8 197.3 955.2 192.2 955.2C187.1 955.2 182.0 962.1 180.0 955.2C178.0 948.2 179.0 919.8 180.0 913.3C181.0 906.9 184.1 915.0 186.1 916.4C188.1 917.8 189.9 920.0 192.2 921.9C194.6 923.7 198.1 926.6 200.2 927.4C202.2 928.2 202.9 927.7 204.4 926.8C206.0 925.8 208.3 922.8 209.3 921.9C210.3 921.0 210.0 922.0 210.5 921.3Z" fill="#000"/>
<path d="M180.0 905.4C181.0 905.5 184.1 906.3 186.1 906.3C188.1 906.3 189.7 905.8 192.2 905.5C194.8 905.2 198.5 904.3 201.4 904.5C204.2 904.6 206.8 905.4 209.3 906.3C211.9 907.2 213.9 908.9 216.7 910.0C219.4 911.1 222.8 912.0 225.8 912.8C228.9 913.7 232.4 914.7 235.0 915.3C237.5 915.9 239.1 916.4 241.1 916.5C243.1 916.6 245.4 915.4 247.2 915.9C249.0 916.4 250.5 918.4 252.1 919.4C253.7 920.5 255.1 922.0 257.0 922.0C258.8 922.0 261.2 919.6 263.1 919.6C264.9 919.5 267.2 921.5 268.0 921.9" fill="none" stroke="#000" stroke-width="4.88" stroke-linecap="round" stroke-linejoin="round"/>
<path d="M186.1 914.9C187.1 914.4 190.2 913.1 192.2 912.1C194.3 911.2 197.3 909.7 198.3 909.2" fill="none" stroke="#000" stroke-width="2.30" stroke-linecap="round" stroke-linejoin="round"/>
<path d="M207.5 938.1C208.0 937.0 208.2 934.6 209.3 933.2C210.4 931.7 212.0 929.9 214.2 929.3C216.4 928.8 220.3 929.4 222.8 929.9C225.2 930.5 228.9 931.5 228.9 932.4C228.9 933.3 225.2 934.6 222.8 935.4C220.3 936.3 217.0 936.6 214.2 937.3C211.5 938.0 207.4 939.6 206.3 939.7C205.1 939.8 207.0 939.2 207.5 938.1Z" fill="#fff"/>
<path d="M196.0 928.7C197.1 928.5 203.6 930.5 204.4 931.7C205.2 932.8 201.9 935.2 200.8 935.4C199.6 935.7 198.5 934.1 197.7 933.0C196.9 931.9 194.9 928.9 196.0 928.7Z" fill="#fff"/>
<path d="M194.7 936.5C195.0 936.6 197.3 939.7 197.4 940.2C197.6 940.7 196.0 940.2 195.6 939.6C195.1 939.0 194.4 936.4 194.7 936.5Z" fill="#fff"/>
<path d="M199.7 944.6C200.1 944.2 203.5 944.7 203.8 945.2C204.1 945.7 202.1 947.8 201.4 947.7C200.7 947.6 199.3 945.0 199.7 944.6Z" fill="#fff"/>
<path d="M216.7 925.1C217.3 924.6 221.3 923.7 222.8 923.8C224.2 924.0 225.8 925.5 225.2 925.9C224.6 926.3 220.5 926.4 219.1 926.3C217.7 926.1 216.0 925.5 216.7 925.1Z" fill="#fff"/>
<path d="M183.7 908.6C185.3 907.9 196.0 908.4 196.5 909.2C197.0 910.0 188.9 913.4 186.7 913.3C184.6 913.2 182.0 909.3 183.7 908.6Z" fill="#fff"/>
<ellipse cx="202.0" cy="917.1" rx="2.20" ry="1.71" fill="#000"/>
<path d="M202.6 916.4L203.5 914.2" fill="none" stroke="#000" stroke-width="2.30" stroke-linecap="round" stroke-linejoin="round"/>
</g>
</g>
<g id="d7top">
<path d="M422.3 790.6C425.5 789.4 427.0 789.2 429.6 789.3C432.2 789.4 434.7 789.5 437.8 791.2C440.8 792.8 443.9 797.3 447.9 799.3C452.0 801.3 457.4 802.4 462.2 803.4C467.0 804.4 471.7 804.4 476.5 805.4C481.2 806.4 485.6 807.3 490.7 809.5C495.8 811.7 501.6 815.8 507.0 818.7C512.4 821.5 517.9 823.8 523.3 826.8C528.7 829.9 534.8 833.6 539.6 837.0C544.3 840.4 548.6 843.4 551.8 847.2C555.0 850.9 557.6 855.3 558.9 859.4C560.3 863.5 560.1 868.2 560.0 871.6C559.9 875.0 559.1 876.7 558.3 879.8C557.5 882.8 555.9 885.9 555.1 889.9C554.3 894.0 554.1 899.5 553.4 904.2C552.8 908.9 552.7 913.3 551.4 918.0C550.1 922.8 548.3 928.8 545.7 932.7C543.1 936.6 539.3 938.0 535.9 941.3C532.5 944.5 529.1 948.8 525.3 952.1C521.6 955.3 517.7 958.1 513.3 960.6C508.9 963.2 503.3 965.7 498.9 967.3C494.4 969.0 492.1 969.0 486.6 970.4C481.2 971.7 472.4 974.2 466.3 975.5C460.2 976.7 455.8 977.9 450.0 977.9C444.2 978.0 436.9 977.8 431.6 975.9C426.4 974.0 422.3 968.9 418.2 966.3C414.1 963.7 409.9 962.1 407.0 960.2C404.1 958.3 402.3 957.2 400.9 955.1C399.5 953.1 400.0 951.2 398.9 948.0C397.7 944.8 396.1 940.0 393.8 935.8C391.4 931.5 387.8 925.6 384.6 922.5C381.4 919.5 376.7 920.7 374.4 917.4C372.1 914.2 371.6 908.1 371.0 903.2C370.3 898.3 369.9 892.8 370.3 887.9C370.8 883.0 372.4 878.2 373.4 873.6C374.4 869.1 374.8 865.0 376.5 860.4C378.2 855.8 381.7 850.6 383.6 846.2C385.5 841.7 385.8 838.3 387.7 833.9C389.5 829.5 392.7 823.9 394.8 819.7C396.8 815.4 397.3 812.4 399.9 808.5C402.4 804.6 406.3 799.2 410.1 796.3C413.8 793.3 419.0 791.7 422.3 790.6Z" fill="none" stroke="#3f6bc7" stroke-width="4.3" stroke-dasharray="15.70 12.56" stroke-dashoffset="0.00"/>
<g filter="url(#rough)">
<path d="M508.3 838.9C508.1 836.8 511.0 835.2 513.4 834.3C515.8 833.5 519.7 832.5 522.6 833.8C525.5 835.1 528.2 838.9 530.7 842.0C533.3 845.1 535.9 848.5 537.9 852.2C539.9 855.9 541.9 860.7 543.0 864.5C544.1 868.2 544.5 872.5 544.2 874.7C544.0 876.9 543.4 879.1 541.5 877.7C539.6 876.4 535.6 870.1 532.8 866.5C530.0 862.9 527.7 859.5 524.6 856.3C521.6 853.1 517.1 850.0 514.4 847.1C511.7 844.2 508.4 841.1 508.3 838.9Z" fill="#000"/>
<path d="M541.5 874.7C541.6 876.4 542.4 881.4 542.5 884.9C542.6 888.4 542.2 893.8 542.2 895.6" fill="none" stroke="#000" stroke-width="4.99" stroke-linecap="round" stroke-linejoin="round"/>
<path d="M545.0 855.3C545.7 855.4 548.1 855.6 549.1 856.3C550.2 857.0 551.0 859.0 551.4 859.6" fill="none" stroke="#000" stroke-width="2.30" stroke-linecap="round" stroke-linejoin="round"/>
<path d="M546.3 856.3C546.6 858.0 548.0 863.1 548.1 866.5C548.2 869.9 547.7 873.3 547.1 876.7C546.4 880.1 544.9 883.8 544.2 886.9C543.6 890.1 543.4 894.2 543.2 895.6" fill="none" stroke="#000" stroke-width="2.30" stroke-linecap="round" stroke-linejoin="round"/>
<path d="M450.1 827.2C451.0 827.9 453.8 829.6 455.7 831.3C457.5 832.9 460.4 835.9 461.3 836.9" fill="none" stroke="#000" stroke-width="9.38" stroke-linecap="round" stroke-linejoin="round"/>
<path d="M496.0 821.8C493.6 822.8 486.1 825.5 481.7 827.9C477.3 830.2 472.9 833.6 469.5 835.9C466.1 838.1 462.6 840.3 461.3 841.2" fill="none" stroke="#000" stroke-width="7.03" stroke-linecap="round" stroke-linejoin="round"/>
<path d="M465.9 843.0C465.3 845.1 464.0 851.4 462.3 855.3C460.6 859.2 457.7 863.5 455.7 866.5C453.6 869.5 451.0 872.3 450.1 873.4" fill="none" stroke="#000" stroke-width="9.89" stroke-linecap="round" stroke-linejoin="round"/>
<path d="M460.3 851.0C460.7 850.2 462.5 849.4 462.8 849.6C463.1 849.9 462.5 852.0 462.1 852.7C461.7 853.4 460.8 854.3 460.5 854.0C460.2 853.8 459.9 851.7 460.3 851.0Z" fill="#fff"/>
<path d="M438.6 846.3C439.5 846.8 441.5 847.7 443.9 849.3C446.3 851.0 451.6 855.1 453.1 856.3" fill="none" stroke="#000" stroke-width="5.30" stroke-linecap="round" stroke-linejoin="round"/>
<path d="M490.4 840.5C490.2 842.1 490.5 846.2 489.1 850.2C487.6 854.2 484.3 859.7 481.7 864.5C479.1 869.2 476.1 873.7 473.5 878.8C471.0 883.8 467.6 892.0 466.4 894.6" fill="none" stroke="#000" stroke-width="4.38" stroke-linecap="round" stroke-linejoin="round"/>
<path d="M481.7 835.9C481.0 837.9 478.7 844.4 477.6 848.1C476.6 851.9 476.9 854.6 475.6 858.3C474.2 862.1 471.3 867.4 469.5 870.6C467.6 873.8 465.2 876.5 464.4 877.7" fill="none" stroke="#000" stroke-width="2.95" stroke-linecap="round" stroke-linejoin="round"/>
<ellipse cx="503.4" cy="864.3" rx="3.27" ry="12.46" fill="#000" transform="rotate(12 503.4 864.3)"/>
<path d="M487.8 838.9C488.6 839.1 491.8 838.8 492.4 839.9C493.1 841.1 492.0 845.1 491.9 846.1" fill="none" stroke="#000" stroke-width="2.30" stroke-linecap="round" stroke-linejoin="round"/>
<path d="M415.3 808.3C417.0 808.4 422.5 808.4 425.5 809.3C428.6 810.2 431.5 811.9 433.7 813.6C435.9 815.3 436.9 818.1 438.8 819.7C440.7 821.4 442.6 822.7 444.9 823.6C447.3 824.5 451.8 824.6 453.1 824.8" fill="none" stroke="#000" stroke-width="3.36" stroke-linecap="round" stroke-linejoin="round"/>
<path d="M413.3 825.6C414.5 825.0 417.7 822.6 420.4 821.8C423.2 820.9 428.1 820.7 429.6 820.5" fill="none" stroke="#000" stroke-width="2.54" stroke-linecap="round" stroke-linejoin="round"/>
<path d="M430.6 825.6C431.0 826.4 430.6 829.6 432.7 829.9C434.7 830.3 441.2 828.1 442.9 827.7" fill="none" stroke="#000" stroke-width="2.30" stroke-linecap="round" stroke-linejoin="round"/>
<path d="M426.6 841.2C427.7 840.1 431.0 836.9 433.7 835.0C436.4 833.2 440.5 831.1 442.9 829.9C445.3 828.7 447.2 828.2 448.0 827.9" fill="none" stroke="#000" stroke-width="2.54" stroke-linecap="round" stroke-linejoin="round"/>
<path d="M422.5 841.0C422.8 842.2 424.5 845.6 424.5 848.1C424.5 850.7 424.0 854.4 422.5 856.3C420.9 858.2 416.5 858.8 415.3 859.4" fill="none" stroke="#000" stroke-width="2.30" stroke-linecap="round" stroke-linejoin="round"/>
<path d="M413.3 860.4L420.4 861.4" fill="none" stroke="#000" stroke-width="2.30" stroke-linecap="round" stroke-linejoin="round"/>
<path d="M416.9 857.3L418.4 862.4" fill="none" stroke="#000" stroke-width="2.30" stroke-linecap="round" stroke-linejoin="round"/>
<path d="M440.9 855.3C440.0 856.8 436.8 861.6 435.8 864.5C434.7 867.4 434.4 870.1 434.7 872.6C435.1 875.2 437.8 877.4 437.8 879.8C437.8 882.2 434.9 884.5 434.7 886.9C434.6 889.4 436.4 893.3 436.8 894.6" fill="none" stroke="#000" stroke-width="3.36" stroke-linecap="round" stroke-linejoin="round"/>
<path d="M417.4 882.8C417.7 883.9 418.4 887.2 419.4 889.0C420.4 890.7 422.8 892.5 423.5 893.3" fill="none" stroke="#000" stroke-width="2.30" stroke-linecap="round" stroke-linejoin="round"/>
<path d="M459.4 809.3L466.4 813.4" fill="none" stroke="#000" stroke-width="2.33" stroke-linecap="round" stroke-linejoin="round"/>
<path d="M474.6 813.4C475.8 813.7 479.2 814.6 481.7 815.4C484.3 816.3 487.5 817.6 489.9 818.5C492.3 819.4 495.0 820.4 496.0 820.7" fill="none" stroke="#000" stroke-width="3.15" stroke-linecap="round" stroke-linejoin="round"/>
<path d="M454.1 818.5C455.0 818.8 457.2 820.5 459.2 820.5C461.3 820.5 464.0 818.5 466.4 818.5C468.8 818.5 471.7 819.7 473.5 820.5C475.4 821.4 476.9 823.3 477.6 823.8" fill="none" stroke="#000" stroke-width="2.54" stroke-linecap="round" stroke-linejoin="round"/>
<path d="M458.2 825.6C459.8 825.6 465.2 826.1 467.4 825.6C469.6 825.2 470.8 823.3 471.5 822.8" fill="none" stroke="#000" stroke-width="2.30" stroke-linecap="round" stroke-linejoin="round"/>
<path d="M508.3 825.6C507.3 825.5 504.0 824.3 502.1 824.8C500.3 825.3 497.9 828.1 497.0 828.7" fill="none" stroke="#000" stroke-width="2.74" stroke-linecap="round" stroke-linejoin="round"/>
<path d="M498.1 828.7C499.8 828.9 505.0 828.9 508.3 829.7C511.5 830.6 515.9 833.1 517.5 833.8" fill="none" stroke="#000" stroke-width="2.30" stroke-linecap="round" stroke-linejoin="round"/>
<path d="M496.0 833.8L498.3 836.1" fill="none" stroke="#000" stroke-width="2.30" stroke-linecap="round" stroke-linejoin="round"/>
<path d="M513.4 877.7C514.6 877.6 518.1 877.1 520.5 876.7C522.9 876.4 526.5 875.9 527.7 875.7" fill="none" stroke="#000" stroke-width="2.30" stroke-linecap="round" stroke-linejoin="round"/>
<path d="M527.7 866.5L528.2 880.8" fill="none" stroke="#000" stroke-width="2.54" stroke-linecap="round" stroke-linejoin="round"/>
<path d="M516.4 877.7L514.4 884.9" fill="none" stroke="#000" stroke-width="2.30" stroke-linecap="round" stroke-linejoin="round"/>
<path d="M522.6 888.2C523.9 888.0 528.7 886.8 530.7 886.9C532.8 887.1 534.2 888.8 534.8 889.2" fill="none" stroke="#000" stroke-width="2.30" stroke-linecap="round" stroke-linejoin="round"/>
<path d="M542.0 890.2C541.7 891.9 540.8 897.0 540.1 900.4C539.5 903.8 538.3 908.9 537.9 910.6" fill="none" stroke="#000" stroke-width="5.40" stroke-linecap="round" stroke-linejoin="round"/>
<path d="M537.9 910.6C537.2 912.3 535.3 918.0 534.0 920.9C532.7 923.8 530.6 926.8 529.9 928.0" fill="none" stroke="#000" stroke-width="4.38" stroke-linecap="round" stroke-linejoin="round"/>
<path d="M529.9 928.0C528.7 928.9 525.0 931.8 522.6 933.1C520.2 934.4 516.6 935.3 515.4 935.8" fill="none" stroke="#000" stroke-width="2.95" stroke-linecap="round" stroke-linejoin="round"/>
<path d="M546.3 895.3C545.9 897.5 545.0 904.3 544.0 908.6C543.0 912.9 541.5 917.5 540.1 920.9C538.8 924.3 536.7 927.7 536.1 929.0" fill="none" stroke="#000" stroke-width="2.30" stroke-linecap="round" stroke-linejoin="round"/>
<path d="M532.8 914.7C531.6 914.9 527.3 914.7 525.6 915.8C523.9 916.8 523.3 919.3 522.6 920.9C521.9 922.4 521.0 923.8 521.6 924.9C522.1 926.1 524.1 927.3 525.6 928.0C527.2 928.7 529.9 929.0 530.7 929.2" fill="none" stroke="#000" stroke-width="2.33" stroke-linecap="round" stroke-linejoin="round"/>
<path d="M522.6 890.2C523.4 889.8 525.8 888.1 527.7 887.8C529.6 887.4 532.8 888.1 533.8 888.2" fill="none" stroke="#000" stroke-width="2.54" stroke-linecap="round" stroke-linejoin="round"/>
<path d="M533.8 896.3L534.8 903.7" fill="none" stroke="#000" stroke-width="2.30" stroke-linecap="round" stroke-linejoin="round"/>
<ellipse cx="513.4" cy="894.1" rx="2.76" ry="2.45" fill="#000"/>
<path d="M412.3 945.9C413.6 946.8 417.4 949.7 420.4 951.5C423.5 953.3 427.2 955.1 430.6 956.6C434.0 958.1 437.5 959.8 440.9 960.7C444.3 961.5 447.7 961.7 451.1 961.7C454.5 961.7 457.9 961.2 461.3 960.7C464.7 960.2 468.1 959.3 471.5 958.7C474.9 958.0 478.3 957.6 481.7 956.6C485.1 955.6 488.5 954.4 491.9 952.5C495.3 950.7 499.1 947.4 502.1 945.4C505.2 943.4 507.3 941.7 510.3 940.5C513.4 939.3 517.5 939.0 520.5 938.2C523.6 937.4 526.3 936.5 528.7 935.8C531.1 935.0 533.8 934.1 534.8 933.7" fill="none" stroke="#000" stroke-width="2.95" stroke-linecap="round" stroke-linejoin="round"/>
<ellipse cx="424.5" cy="950.5" rx="4.70" ry="2.25" fill="#000" transform="rotate(30 424.5 950.5)"/>
<path d="M446.0 964.8C447.7 964.6 452.8 964.3 456.2 963.8C459.6 963.2 463.0 961.7 466.4 961.7C469.8 961.7 474.1 963.8 476.6 963.8C479.2 963.8 479.2 963.1 481.7 961.7C484.3 960.4 488.4 957.5 491.9 955.6C495.5 953.7 501.3 951.3 503.2 950.5" fill="none" stroke="#000" stroke-width="2.30" stroke-linecap="round" stroke-linejoin="round"/>
<path d="M451.1 960.7C451.2 960.0 451.1 957.8 452.1 956.8C453.1 955.8 456.4 955.1 457.2 954.8" fill="none" stroke="#000" stroke-width="2.30" stroke-linecap="round" stroke-linejoin="round"/>
<path d="M511.3 952.5C512.4 952.4 515.4 952.5 517.5 951.5C519.5 950.5 521.9 948.4 523.6 946.4C525.3 944.4 527.0 940.6 527.7 939.4" fill="none" stroke="#000" stroke-width="2.30" stroke-linecap="round" stroke-linejoin="round"/>
<path d="M435.2 900.4C436.2 901.3 439.6 903.5 440.9 905.5C442.1 907.6 441.5 910.5 442.9 912.7C444.3 914.9 446.3 916.9 449.0 918.8C451.8 920.7 457.7 923.2 459.4 924.1" fill="none" stroke="#000" stroke-width="2.74" stroke-linecap="round" stroke-linejoin="round"/>
<path d="M442.9 913.7L441.1 920.9" fill="none" stroke="#000" stroke-width="2.54" stroke-linecap="round" stroke-linejoin="round"/>
<path d="M473.5 880.0C472.7 881.0 470.1 883.6 468.4 886.1C466.7 888.7 463.7 892.8 463.3 895.3C463.0 897.9 464.4 899.4 466.4 901.5C468.4 903.5 474.1 906.7 475.6 907.8" fill="none" stroke="#000" stroke-width="2.54" stroke-linecap="round" stroke-linejoin="round"/>
<path d="M422.0 919.3C423.1 918.7 426.9 917.0 428.6 915.8C430.3 914.5 431.6 912.3 432.2 911.7" fill="none" stroke="#000" stroke-width="2.30" stroke-linecap="round" stroke-linejoin="round"/>
<ellipse cx="432.7" cy="910.4" rx="1.63" ry="2.25" fill="#000"/>
<path d="M442.4 938.2C443.3 937.5 446.5 935.2 448.0 934.1C449.5 933.1 451.0 932.3 451.6 931.9" fill="none" stroke="#000" stroke-width="2.30" stroke-linecap="round" stroke-linejoin="round"/>
<ellipse cx="451.3" cy="932.1" rx="2.25" ry="1.84" fill="#000"/>
<path d="M470.5 923.4C471.4 923.0 473.3 924.3 474.1 925.5C474.8 926.6 475.7 928.8 475.1 930.1C474.5 931.3 472.1 931.9 470.5 933.1C468.9 934.3 466.9 936.1 465.4 937.2C463.8 938.3 462.1 939.4 461.3 939.4C460.4 939.5 459.6 938.8 460.3 937.7C460.9 936.7 464.0 934.7 465.4 933.1C466.7 931.5 467.6 929.6 468.4 928.0C469.3 926.4 469.5 923.8 470.5 923.4Z" fill="#000"/>
<path d="M455.7 940.3C456.6 940.1 460.1 939.0 461.3 939.2C462.4 939.5 462.3 941.5 462.5 941.9" fill="none" stroke="#000" stroke-width="2.30" stroke-linecap="round" stroke-linejoin="round"/>
<path d="M489.9 918.3C490.7 918.7 493.6 920.1 495.0 920.9C496.4 921.7 497.7 922.7 498.3 923.1" fill="none" stroke="#000" stroke-width="2.54" stroke-linecap="round" stroke-linejoin="round"/>
<path d="M422.3 841.1C422.6 842.4 424.5 846.3 424.3 849.2C424.1 852.1 423.0 856.7 421.3 858.4C419.5 860.1 415.0 859.2 413.7 859.4" fill="none" stroke="#000" stroke-width="2.43" stroke-linecap="round" stroke-linejoin="round"/>
<path d="M417.4 883.8C417.7 884.9 418.6 888.2 419.4 889.9C420.3 891.6 422.0 893.3 422.5 894.0" fill="none" stroke="#000" stroke-width="2.43" stroke-linecap="round" stroke-linejoin="round"/>
<path d="M422.5 918.5C423.7 917.8 427.9 915.9 429.6 914.4C431.3 912.9 432.2 910.1 432.7 909.3" fill="none" stroke="#000" stroke-width="2.84" stroke-linecap="round" stroke-linejoin="round"/>
</g>
</g>
<g id="chart">
<rect x="759.6" y="801.4" width="32.6" height="103.9" fill="#595959" stroke="#000" stroke-width="1.9"/>
<rect x="808.4" y="867.9" width="32.6" height="37.4" fill="#a0a0a4" stroke="#000" stroke-width="1.9"/>
<rect x="857.0" y="887.5" width="32.6" height="17.8" fill="#d9d9d9" stroke="#000" stroke-width="1.9"/>
<rect x="905.9" y="746.3" width="32.6" height="159.0" fill="#3f6bc7" stroke="#000" stroke-width="1.9"/>
<rect x="986.0" y="803.7" width="32.6" height="101.6" fill="#595959" stroke="#000" stroke-width="1.9"/>
<rect x="1034.5" y="856.2" width="32.6" height="49.1" fill="#a0a0a4" stroke="#000" stroke-width="1.9"/>
<rect x="1083.4" y="870.2" width="32.6" height="35.1" fill="#d9d9d9" stroke="#000" stroke-width="1.9"/>
<rect x="1132.3" y="719.0" width="32.6" height="186.3" fill="#3f6bc7" stroke="#000" stroke-width="1.9"/>
<rect x="1212.9" y="774.0" width="32.6" height="131.3" fill="#595959" stroke="#000" stroke-width="1.9"/>
<rect x="1261.5" y="858.5" width="32.6" height="46.8" fill="#a0a0a4" stroke="#000" stroke-width="1.9"/>
<rect x="1309.7" y="889.8" width="32.6" height="15.5" fill="#d9d9d9" stroke="#000" stroke-width="1.9"/>
<rect x="1358.6" y="710.8" width="32.6" height="194.5" fill="#3f6bc7" stroke="#000" stroke-width="1.9"/>
<rect x="1439.6" y="744.1" width="32.6" height="161.2" fill="#595959" stroke="#000" stroke-width="1.9"/>
<rect x="1488.1" y="842.5" width="32.6" height="62.8" fill="#a0a0a4" stroke="#000" stroke-width="1.9"/>
<rect x="1536.4" y="882.6" width="32.6" height="22.7" fill="#d9d9d9" stroke="#000" stroke-width="1.9"/>
<rect x="1585.2" y="658.3" width="32.6" height="247.0" fill="#3f6bc7" stroke="#000" stroke-width="1.9"/>
<path d="M775.9 760.7V843.8M768.3 760.7h15.2M768.3 843.8h15.2" stroke="#000" stroke-width="1.95" fill="none"/>
<path d="M824.7 851.0V885.9M817.1 851.0h15.2M817.1 885.9h15.2" stroke="#000" stroke-width="1.95" fill="none"/>
<path d="M873.3 879.7V896.0M865.7 879.7h15.2M865.7 896.0h15.2" stroke="#000" stroke-width="1.95" fill="none"/>
<path d="M922.2 680.8V811.2M914.6 680.8h15.2M914.6 811.2h15.2" stroke="#000" stroke-width="1.95" fill="none"/>
<path d="M1002.3 753.2V853.9M994.7 753.2h15.2M994.7 853.9h15.2" stroke="#000" stroke-width="1.95" fill="none"/>
<path d="M1050.8 841.9V869.6M1043.2 841.9h15.2M1043.2 869.6h15.2" stroke="#000" stroke-width="1.95" fill="none"/>
<path d="M1099.7 852.9V888.8M1092.1 852.9h15.2M1092.1 888.8h15.2" stroke="#000" stroke-width="1.95" fill="none"/>
<path d="M1148.6 647.3V790.4M1141.0 647.3h15.2M1141.0 790.4h15.2" stroke="#000" stroke-width="1.95" fill="none"/>
<path d="M1229.2 744.4V804.0M1221.6 744.4h15.2M1221.6 804.0h15.2" stroke="#000" stroke-width="1.95" fill="none"/>
<path d="M1277.8 837.6V878.7M1270.2 837.6h15.2M1270.2 878.7h15.2" stroke="#000" stroke-width="1.95" fill="none"/>
<path d="M1326.0 884.9V895.3M1318.4 884.9h15.2M1318.4 895.3h15.2" stroke="#000" stroke-width="1.95" fill="none"/>
<path d="M1374.9 663.2V758.7M1367.3 663.2h15.2M1367.3 758.7h15.2" stroke="#000" stroke-width="1.95" fill="none"/>
<path d="M1455.9 673.7V815.1M1448.3 673.7h15.2M1448.3 815.1h15.2" stroke="#000" stroke-width="1.95" fill="none"/>
<path d="M1504.4 813.8V872.2M1496.8 813.8h15.2M1496.8 872.2h15.2" stroke="#000" stroke-width="1.95" fill="none"/>
<path d="M1552.7 873.5V891.1M1545.1 873.5h15.2M1545.1 891.1h15.2" stroke="#000" stroke-width="1.95" fill="none"/>
<path d="M1601.5 553.0V763.6M1593.9 553.0h15.2M1593.9 763.6h15.2" stroke="#000" stroke-width="1.95" fill="none"/>
<circle cx="775.9" cy="623.1" r="3.3" fill="#000"/>
<circle cx="775.9" cy="737.2" r="3.3" fill="#000"/>
<circle cx="775.9" cy="841.2" r="3.3" fill="#000"/>
<circle cx="775.9" cy="852.9" r="3.3" fill="#000"/>
<circle cx="775.9" cy="873.1" r="3.3" fill="#000"/>
<circle cx="775.9" cy="886.8" r="3.3" fill="#000"/>
<circle cx="824.7" cy="792.0" r="3.3" fill="#000"/>
<circle cx="824.7" cy="842.8" r="3.3" fill="#000"/>
<circle cx="824.7" cy="886.8" r="3.3" fill="#000"/>
<circle cx="815.6" cy="894.3" r="3.3" fill="#000"/>
<circle cx="833.9" cy="894.3" r="3.3" fill="#000"/>
<circle cx="824.7" cy="900.2" r="3.3" fill="#000"/>
<circle cx="873.3" cy="852.0" r="3.3" fill="#000"/>
<circle cx="873.3" cy="876.4" r="3.3" fill="#000"/>
<circle cx="860.9" cy="896.0" r="3.3" fill="#000"/>
<circle cx="885.7" cy="896.0" r="3.3" fill="#000"/>
<circle cx="877.5" cy="899.2" r="3.3" fill="#000"/>
<circle cx="869.1" cy="905.4" r="3.3" fill="#000"/>
<circle cx="922.2" cy="455.0" r="3.3" fill="#000"/>
<circle cx="922.2" cy="663.6" r="3.3" fill="#000"/>
<circle cx="922.2" cy="818.4" r="3.3" fill="#000"/>
<circle cx="917.3" cy="838.3" r="3.3" fill="#000"/>
<circle cx="926.8" cy="840.2" r="3.3" fill="#000"/>
<circle cx="922.2" cy="861.4" r="3.3" fill="#000"/>
<circle cx="1002.3" cy="608.8" r="3.3" fill="#000"/>
<circle cx="1002.3" cy="819.7" r="3.3" fill="#000"/>
<circle cx="998.4" cy="848.7" r="3.3" fill="#000"/>
<circle cx="1006.8" cy="848.7" r="3.3" fill="#000"/>
<circle cx="1002.3" cy="895.3" r="3.3" fill="#000"/>
<circle cx="1046.6" cy="822.6" r="3.3" fill="#000"/>
<circle cx="1055.7" cy="830.4" r="3.3" fill="#000"/>
<circle cx="1050.8" cy="854.6" r="3.3" fill="#000"/>
<circle cx="1050.8" cy="875.7" r="3.3" fill="#000"/>
<circle cx="1050.8" cy="896.6" r="3.3" fill="#000"/>
<circle cx="1099.7" cy="809.3" r="3.3" fill="#000"/>
<circle cx="1099.7" cy="856.8" r="3.3" fill="#000"/>
<circle cx="1099.7" cy="886.8" r="3.3" fill="#000"/>
<circle cx="1095.2" cy="902.5" r="3.3" fill="#000"/>
<circle cx="1104.3" cy="900.5" r="3.3" fill="#000"/>
<circle cx="1148.6" cy="461.0" r="3.3" fill="#000"/>
<circle cx="1148.6" cy="694.2" r="3.3" fill="#000"/>
<circle cx="1148.6" cy="745.4" r="3.3" fill="#000"/>
<circle cx="1148.6" cy="812.2" r="3.3" fill="#000"/>
<circle cx="1148.6" cy="882.9" r="3.3" fill="#000"/>
<circle cx="1229.2" cy="704.6" r="3.3" fill="#000"/>
<circle cx="1229.2" cy="726.1" r="3.3" fill="#000"/>
<circle cx="1229.2" cy="764.9" r="3.3" fill="#000"/>
<circle cx="1229.2" cy="801.4" r="3.3" fill="#000"/>
<circle cx="1229.2" cy="873.1" r="3.3" fill="#000"/>
<circle cx="1277.8" cy="788.1" r="3.3" fill="#000"/>
<circle cx="1277.8" cy="838.9" r="3.3" fill="#000"/>
<circle cx="1277.8" cy="875.7" r="3.3" fill="#000"/>
<circle cx="1277.8" cy="887.2" r="3.3" fill="#000"/>
<circle cx="1277.8" cy="903.1" r="3.3" fill="#000"/>
<circle cx="1321.8" cy="874.1" r="3.3" fill="#000"/>
<circle cx="1330.9" cy="882.9" r="3.3" fill="#000"/>
<circle cx="1316.9" cy="893.4" r="3.3" fill="#000"/>
<circle cx="1335.8" cy="900.2" r="3.3" fill="#000"/>
<circle cx="1326.0" cy="901.8" r="3.3" fill="#000"/>
<circle cx="1374.9" cy="576.0" r="3.3" fill="#000"/>
<circle cx="1374.9" cy="631.6" r="3.3" fill="#000"/>
<circle cx="1374.9" cy="722.9" r="3.3" fill="#000"/>
<circle cx="1374.9" cy="794.6" r="3.3" fill="#000"/>
<circle cx="1374.9" cy="829.8" r="3.3" fill="#000"/>
<circle cx="1455.9" cy="447.0" r="3.3" fill="#000"/>
<circle cx="1455.9" cy="634.6" r="3.3" fill="#000"/>
<circle cx="1455.9" cy="776.3" r="3.3" fill="#000"/>
<circle cx="1451.0" cy="858.1" r="3.3" fill="#000"/>
<circle cx="1460.4" cy="867.6" r="3.3" fill="#000"/>
<circle cx="1455.9" cy="883.6" r="3.3" fill="#000"/>
<circle cx="1504.4" cy="703.3" r="3.3" fill="#000"/>
<circle cx="1509.0" cy="843.8" r="3.3" fill="#000"/>
<circle cx="1499.9" cy="850.3" r="3.3" fill="#000"/>
<circle cx="1499.9" cy="878.0" r="3.3" fill="#000"/>
<circle cx="1509.0" cy="886.8" r="3.3" fill="#000"/>
<circle cx="1504.4" cy="897.6" r="3.3" fill="#000"/>
<circle cx="1552.7" cy="837.6" r="3.3" fill="#000"/>
<circle cx="1552.7" cy="886.2" r="3.3" fill="#000"/>
<circle cx="1540.3" cy="889.4" r="3.3" fill="#000"/>
<circle cx="1565.0" cy="889.4" r="3.3" fill="#000"/>
<circle cx="1548.1" cy="897.6" r="3.3" fill="#000"/>
<circle cx="1556.9" cy="896.0" r="3.3" fill="#000"/>
<circle cx="1601.5" cy="176.0" r="3.3" fill="#000"/>
<circle cx="1601.5" cy="557.0" r="3.3" fill="#000"/>
<circle cx="1601.5" cy="746.7" r="3.3" fill="#000"/>
<circle cx="1601.5" cy="806.6" r="3.3" fill="#000"/>
<circle cx="1601.5" cy="822.6" r="3.3" fill="#000"/>
<circle cx="1601.5" cy="842.2" r="3.3" fill="#000"/>
<path d="M719.0 70.8H1643.0V905.3H719.0M735.5 70.8V905.3" stroke="#000" stroke-width="2.3" fill="none"/>
<path d="M719.0 738.4H735.5" stroke="#000" stroke-width="2.3"/>
<path d="M719.0 571.5H735.5" stroke="#000" stroke-width="2.3"/>
<path d="M719.0 404.6H735.5" stroke="#000" stroke-width="2.3"/>
<path d="M719.0 237.7H735.5" stroke="#000" stroke-width="2.3"/>
<text x="714.5" y="920.5" text-anchor="end" class="t43">0</text>
<text x="714.5" y="753.6" text-anchor="end" class="t43">1</text>
<text x="714.5" y="586.7" text-anchor="end" class="t43">2</text>
<text x="714.5" y="419.8" text-anchor="end" class="t43">3</text>
<text x="714.5" y="252.9" text-anchor="end" class="t43">4</text>
<text x="714.5" y="86.0" text-anchor="end" class="t43">5</text>
<path d="M848.4 905.3V922.4" stroke="#000" stroke-width="2.3"/>
<path d="M1075.0 905.3V922.4" stroke="#000" stroke-width="2.3"/>
<path d="M1301.3 905.3V922.4" stroke="#000" stroke-width="2.3"/>
<path d="M1527.6 905.3V922.4" stroke="#000" stroke-width="2.3"/>
<text x="848.4" y="972" text-anchor="middle" class="t43">Day 1</text>
<text x="1075.0" y="972" text-anchor="middle" class="t43">Day 3</text>
<text x="1301.3" y="972" text-anchor="middle" class="t43">Day 5</text>
<text x="1527.6" y="972" text-anchor="middle" class="t43">Day 7</text>
<text transform="translate(657.5 489) rotate(-90)" text-anchor="middle" class="t43">Vessel volume [mm<tspan dy="-13" font-size="27">3</tspan><tspan dy="13">]</tspan></text>
<path d="M799.7 253.3A154.8 12.6 0 0 0 1109.3 253.3V307.6A154.8 13.4 0 0 1 799.7 307.6Z" fill="#595959" stroke="#3f6bc7" stroke-width="1.9"/>
<path d="M799.7 196.6A154.8 12.6 0 0 0 1109.3 196.6V253.3A154.8 12.6 0 0 1 799.7 253.3Z" fill="#a0a0a4" stroke="#3f6bc7" stroke-width="1.9"/>
<path d="M799.7 139.7A154.8 14 0 0 0 1109.3 139.7V196.6A154.8 12.6 0 0 1 799.7 196.6Z" fill="#d9d9d9" stroke="#3f6bc7" stroke-width="1.9"/>
<ellipse cx="954.5" cy="139.7" rx="154.8" ry="14" fill="#d9d9d9" stroke="#3f6bc7" stroke-width="1.9"/>
<text x="954.6" y="193.4" text-anchor="middle" class="t34">Surface</text>
<text x="955.7" y="251.5" text-anchor="middle" class="t34">Middle</text>
<text x="955.6" y="306.3" text-anchor="middle" class="t34" fill="#fff">Interface</text>
<text x="955" y="368.3" text-anchor="middle" class="t34" fill="#3f6bc7">Total</text>
</g>
</svg>
</body>
</html>
